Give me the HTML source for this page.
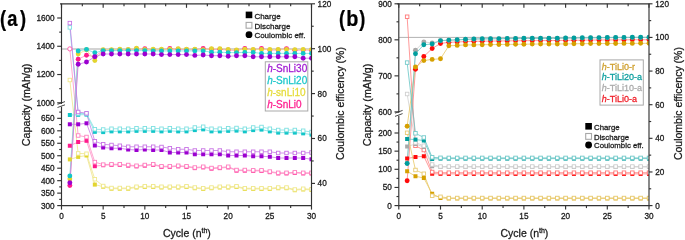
<!DOCTYPE html>
<html><head><meta charset="utf-8"><style>
html,body{margin:0;padding:0;background:#fff;width:685px;height:240px;overflow:hidden}
svg{display:block;font-family:"Liberation Sans", sans-serif;will-change:transform}
</style></head><body>
<svg width="685" height="240" viewBox="0 0 685 240">
<defs><clipPath id="clipA"><rect x="61.5" y="3.8" width="250" height="201.8"/></clipPath><clipPath id="clipB"><rect x="398.8" y="3.8" width="250.2" height="201.8"/></clipPath></defs>
<rect width="685" height="240" fill="#fff"/>
<g clip-path="url(#clipA)">
<line x1="61.5" y1="49" x2="311.5" y2="49" stroke="#c4c4c4" stroke-width="1.7" />
<polyline points="69.83,145.75 78.17,142 86.5,140.8 94.83,166.2 103.17,165.2 111.5,164.85 119.83,164.85 128.17,165.6 136.5,166.35 144.83,165.6 153.17,164.85 161.5,166.85 169.83,166.85 178.17,166.35 186.5,166.85 194.83,168.1 203.17,167.35 211.5,168.6 219.83,168.1 228.17,167.35 236.5,170.6 244.83,170.6 253.17,170.9 261.5,170.9 269.83,172.15 278.17,173.4 286.5,173.4 294.83,172.9 303.17,173.4 311.5,173.4" fill="none" stroke="#ff8fc5" stroke-width="0.8" stroke-opacity="1.0"/>
<polyline points="69.83,48.9 78.17,135.5 86.5,137 94.83,162.1 103.17,164.6 111.5,164.25 119.83,164.25 128.17,165 136.5,165.75 144.83,165 153.17,164.25 161.5,166.25 169.83,166.25 178.17,165.75 186.5,166.25 194.83,167.5 203.17,166.75 211.5,168 219.83,167.5 228.17,166.75 236.5,170 244.83,170 253.17,170.3 261.5,170.3 269.83,171.55 278.17,172.8 286.5,172.8 294.83,172.3 303.17,172.8 311.5,172.8" fill="none" stroke="#ff8fc5" stroke-width="0.8" stroke-opacity="1.0"/>
<polyline points="69.83,185.6 78.17,59.2 86.5,55.2 94.83,56.6 103.17,50.2 111.5,50.2 119.83,49.9 128.17,50 136.5,48.9 144.83,48.8 153.17,49.9 161.5,49.9 169.83,48.5 178.17,49.2 186.5,49.7 194.83,49.7 203.17,48.4 211.5,49.3 219.83,49.3 228.17,50 236.5,50.5 244.83,48.4 253.17,50 261.5,48.5 269.83,50.1 278.17,50 286.5,48.6 294.83,50.2 303.17,50.1 311.5,50.2" fill="none" stroke="#ff8fc5" stroke-width="0.8" stroke-opacity="1.0"/>
<polyline points="69.83,159.4 78.17,156.9 86.5,155.5 94.83,184.6 103.17,186.7 111.5,188.7 119.83,188.7 128.17,188.7 136.5,187.45 144.83,186.95 153.17,186.95 161.5,187.45 169.83,187.45 178.17,187.45 186.5,186.95 194.83,188.2 203.17,188.95 211.5,188.2 219.83,187.45 228.17,187.45 236.5,186.95 244.83,188.95 253.17,188.95 261.5,188.95 269.83,188.95 278.17,188.2 286.5,188.2 294.83,190.2 303.17,189.45 311.5,189.95" fill="none" stroke="#efe58a" stroke-width="0.8" stroke-opacity="1.0"/>
<polyline points="69.83,80 78.17,153.4 86.5,153.75 94.83,179.2 103.17,186 111.5,188 119.83,188 128.17,188 136.5,186.75 144.83,186.25 153.17,186.25 161.5,186.75 169.83,186.75 178.17,186.75 186.5,186.25 194.83,187.5 203.17,188.25 211.5,187.5 219.83,186.75 228.17,186.75 236.5,186.25 244.83,188.25 253.17,188.25 261.5,188.25 269.83,188.25 278.17,187.5 286.5,187.5 294.83,189.5 303.17,188.75 311.5,189.25" fill="none" stroke="#efe58a" stroke-width="0.8" stroke-opacity="1.0"/>
<polyline points="69.83,179 78.17,53.9 86.5,49.8 94.83,60.5 103.17,49.6 111.5,49.6 119.83,49.3 128.17,49.4 136.5,48.3 144.83,49.4 153.17,49.3 161.5,49.3 169.83,49.3 178.17,48.6 186.5,49.1 194.83,49.1 203.17,49.6 211.5,48.7 219.83,48.7 228.17,49.4 236.5,49.9 244.83,49.3 253.17,49.4 261.5,49.4 269.83,49.5 278.17,49.4 286.5,49.4 294.83,49.6 303.17,49.5 311.5,49.6" fill="none" stroke="#efe58a" stroke-width="0.8" stroke-opacity="1.0"/>
<polyline points="69.83,115 78.17,114.8 86.5,114.6 94.83,131.85 103.17,132.1 111.5,131.35 119.83,131.35 128.17,131.35 136.5,130.85 144.83,130.85 153.17,130.85 161.5,131.35 169.83,130.85 178.17,131.35 186.5,131.35 194.83,130.1 203.17,129.35 211.5,131.35 219.83,131.35 228.17,130.85 236.5,130.6 244.83,131.35 253.17,130.1 261.5,129.6 269.83,131.35 278.17,132.6 286.5,132.6 294.83,132.6 303.17,133.35 311.5,134.6" fill="none" stroke="#7fe0e2" stroke-width="0.8" stroke-opacity="1.0"/>
<polyline points="69.83,27.4 78.17,113.5 86.5,113.6 94.83,129.25 103.17,129.5 111.5,128.75 119.83,128.75 128.17,128.75 136.5,128.25 144.83,128.25 153.17,128.25 161.5,128.75 169.83,128.25 178.17,128.75 186.5,128.75 194.83,127.5 203.17,126.75 211.5,128.75 219.83,128.75 228.17,128.25 236.5,128 244.83,128.75 253.17,127.5 261.5,127 269.83,128.75 278.17,130 286.5,130 294.83,130 303.17,130.75 311.5,132" fill="none" stroke="#7fe0e2" stroke-width="0.8" stroke-opacity="1.0"/>
<polyline points="69.83,175.9 78.17,51 86.5,49.4 94.83,52.8 103.17,50.6 111.5,50.6 119.83,50.6 128.17,50.6 136.5,50.6 144.83,50.6 153.17,50.9 161.5,50.9 169.83,50.9 178.17,50.9 186.5,50.9 194.83,50.9 203.17,50.9 211.5,52.2 219.83,52.2 228.17,52.6 236.5,52.6 244.83,52.4 253.17,52.4 261.5,53.4 269.83,53.4 278.17,53.4 286.5,53.4 294.83,53.4 303.17,53.4 311.5,53.4" fill="none" stroke="#7fe0e2" stroke-width="0.8" stroke-opacity="1.0"/>
<polyline points="69.83,124.3 78.17,124.3 86.5,123.3 94.83,145.5 103.17,147.5 111.5,148.25 119.83,148.25 128.17,149.5 136.5,150 144.83,149.5 153.17,150 161.5,150 169.83,152.5 178.17,152.5 186.5,152.5 194.83,154.25 203.17,154.25 211.5,154.25 219.83,154.25 228.17,155.5 236.5,155.5 244.83,155.5 253.17,156.25 261.5,156.25 269.83,156.75 278.17,158 286.5,158 294.83,158 303.17,158 311.5,159.25" fill="none" stroke="#c77ae6" stroke-width="0.8" stroke-opacity="1.0"/>
<polyline points="69.83,23.1 78.17,112 86.5,113.3 94.83,141.25 103.17,144.25 111.5,145 119.83,145.75 128.17,146.75 136.5,146.75 144.83,146.75 153.17,146.75 161.5,147 169.83,148.25 178.17,149.25 186.5,149.25 194.83,150.5 203.17,150.5 211.5,150.5 219.83,150.5 228.17,151.75 236.5,151.75 244.83,151.75 253.17,151.75 261.5,151.75 269.83,151.75 278.17,153 286.5,153 294.83,153 303.17,153 311.5,152.5" fill="none" stroke="#c77ae6" stroke-width="0.8" stroke-opacity="1.0"/>
<polyline points="69.83,182.8 78.17,64.3 86.5,62 94.83,56.7 103.17,54 111.5,54 119.83,54 128.17,54 136.5,54 144.83,54 153.17,54 161.5,54.6 169.83,54.6 178.17,54.6 186.5,54.6 194.83,55.4 203.17,55 211.5,55.7 219.83,55.7 228.17,56.3 236.5,55.8 244.83,55.8 253.17,56.8 261.5,56.8 269.83,56.8 278.17,56.8 286.5,56.8 294.83,56.8 303.17,58.2 311.5,58.2" fill="none" stroke="#c77ae6" stroke-width="0.8" stroke-opacity="1.0"/>
<rect x="67.83" y="143.75" width="4" height="4" fill="#ff1a8c"/>
<rect x="76.17" y="140" width="4" height="4" fill="#ff1a8c"/>
<rect x="84.5" y="138.8" width="4" height="4" fill="#ff1a8c"/>
<rect x="92.83" y="164.2" width="4" height="4" fill="#ff1a8c"/>
<rect x="101.17" y="163.2" width="4" height="4" fill="#ff1a8c"/>
<rect x="109.5" y="162.85" width="4" height="4" fill="#ff1a8c"/>
<rect x="117.83" y="162.85" width="4" height="4" fill="#ff1a8c"/>
<rect x="126.17" y="163.6" width="4" height="4" fill="#ff1a8c"/>
<rect x="134.5" y="164.35" width="4" height="4" fill="#ff1a8c"/>
<rect x="142.83" y="163.6" width="4" height="4" fill="#ff1a8c"/>
<rect x="151.17" y="162.85" width="4" height="4" fill="#ff1a8c"/>
<rect x="159.5" y="164.85" width="4" height="4" fill="#ff1a8c"/>
<rect x="167.83" y="164.85" width="4" height="4" fill="#ff1a8c"/>
<rect x="176.17" y="164.35" width="4" height="4" fill="#ff1a8c"/>
<rect x="184.5" y="164.85" width="4" height="4" fill="#ff1a8c"/>
<rect x="192.83" y="166.1" width="4" height="4" fill="#ff1a8c"/>
<rect x="201.17" y="165.35" width="4" height="4" fill="#ff1a8c"/>
<rect x="209.5" y="166.6" width="4" height="4" fill="#ff1a8c"/>
<rect x="217.83" y="166.1" width="4" height="4" fill="#ff1a8c"/>
<rect x="226.17" y="165.35" width="4" height="4" fill="#ff1a8c"/>
<rect x="234.5" y="168.6" width="4" height="4" fill="#ff1a8c"/>
<rect x="242.83" y="168.6" width="4" height="4" fill="#ff1a8c"/>
<rect x="251.17" y="168.9" width="4" height="4" fill="#ff1a8c"/>
<rect x="259.5" y="168.9" width="4" height="4" fill="#ff1a8c"/>
<rect x="267.83" y="170.15" width="4" height="4" fill="#ff1a8c"/>
<rect x="276.17" y="171.4" width="4" height="4" fill="#ff1a8c"/>
<rect x="284.5" y="171.4" width="4" height="4" fill="#ff1a8c"/>
<rect x="292.83" y="170.9" width="4" height="4" fill="#ff1a8c"/>
<rect x="301.17" y="171.4" width="4" height="4" fill="#ff1a8c"/>
<rect x="309.5" y="171.4" width="4" height="4" fill="#ff1a8c"/>
<circle cx="69.83" cy="48.9" r="2.1" fill="#fff" stroke="#ff5fae" stroke-width="1"/>
<rect x="76.42" y="133.75" width="3.5" height="3.5" fill="#fff" stroke="#ff81c0" stroke-width="0.9"/>
<rect x="84.75" y="135.25" width="3.5" height="3.5" fill="#fff" stroke="#ff81c0" stroke-width="0.9"/>
<rect x="93.08" y="160.35" width="3.5" height="3.5" fill="#fff" stroke="#ff81c0" stroke-width="0.9"/>
<rect x="101.42" y="162.85" width="3.5" height="3.5" fill="#fff" stroke="#ff81c0" stroke-width="0.9"/>
<rect x="109.75" y="162.5" width="3.5" height="3.5" fill="#fff" stroke="#ff81c0" stroke-width="0.9"/>
<rect x="118.08" y="162.5" width="3.5" height="3.5" fill="#fff" stroke="#ff81c0" stroke-width="0.9"/>
<rect x="126.42" y="163.25" width="3.5" height="3.5" fill="#fff" stroke="#ff81c0" stroke-width="0.9"/>
<rect x="134.75" y="164" width="3.5" height="3.5" fill="#fff" stroke="#ff81c0" stroke-width="0.9"/>
<rect x="143.08" y="163.25" width="3.5" height="3.5" fill="#fff" stroke="#ff81c0" stroke-width="0.9"/>
<rect x="151.42" y="162.5" width="3.5" height="3.5" fill="#fff" stroke="#ff81c0" stroke-width="0.9"/>
<rect x="159.75" y="164.5" width="3.5" height="3.5" fill="#fff" stroke="#ff81c0" stroke-width="0.9"/>
<rect x="168.08" y="164.5" width="3.5" height="3.5" fill="#fff" stroke="#ff81c0" stroke-width="0.9"/>
<rect x="176.42" y="164" width="3.5" height="3.5" fill="#fff" stroke="#ff81c0" stroke-width="0.9"/>
<rect x="184.75" y="164.5" width="3.5" height="3.5" fill="#fff" stroke="#ff81c0" stroke-width="0.9"/>
<rect x="193.08" y="165.75" width="3.5" height="3.5" fill="#fff" stroke="#ff81c0" stroke-width="0.9"/>
<rect x="201.42" y="165" width="3.5" height="3.5" fill="#fff" stroke="#ff81c0" stroke-width="0.9"/>
<rect x="209.75" y="166.25" width="3.5" height="3.5" fill="#fff" stroke="#ff81c0" stroke-width="0.9"/>
<rect x="218.08" y="165.75" width="3.5" height="3.5" fill="#fff" stroke="#ff81c0" stroke-width="0.9"/>
<rect x="226.42" y="165" width="3.5" height="3.5" fill="#fff" stroke="#ff81c0" stroke-width="0.9"/>
<rect x="234.75" y="168.25" width="3.5" height="3.5" fill="#fff" stroke="#ff81c0" stroke-width="0.9"/>
<rect x="243.08" y="168.25" width="3.5" height="3.5" fill="#fff" stroke="#ff81c0" stroke-width="0.9"/>
<rect x="251.42" y="168.55" width="3.5" height="3.5" fill="#fff" stroke="#ff81c0" stroke-width="0.9"/>
<rect x="259.75" y="168.55" width="3.5" height="3.5" fill="#fff" stroke="#ff81c0" stroke-width="0.9"/>
<rect x="268.08" y="169.8" width="3.5" height="3.5" fill="#fff" stroke="#ff81c0" stroke-width="0.9"/>
<rect x="276.42" y="171.05" width="3.5" height="3.5" fill="#fff" stroke="#ff81c0" stroke-width="0.9"/>
<rect x="284.75" y="171.05" width="3.5" height="3.5" fill="#fff" stroke="#ff81c0" stroke-width="0.9"/>
<rect x="293.08" y="170.55" width="3.5" height="3.5" fill="#fff" stroke="#ff81c0" stroke-width="0.9"/>
<rect x="301.42" y="171.05" width="3.5" height="3.5" fill="#fff" stroke="#ff81c0" stroke-width="0.9"/>
<rect x="309.75" y="171.05" width="3.5" height="3.5" fill="#fff" stroke="#ff81c0" stroke-width="0.9"/>
<circle cx="69.83" cy="185.6" r="2.45" fill="#ff1a8c"/>
<circle cx="78.17" cy="59.2" r="2.45" fill="#ff1a8c"/>
<circle cx="86.5" cy="55.2" r="2.45" fill="#ff1a8c"/>
<circle cx="94.83" cy="56.6" r="2.45" fill="#ff1a8c"/>
<circle cx="103.17" cy="50.2" r="2.45" fill="#ff1a8c"/>
<circle cx="111.5" cy="50.2" r="2.45" fill="#ff1a8c"/>
<circle cx="119.83" cy="49.9" r="2.45" fill="#ff1a8c"/>
<circle cx="128.17" cy="50" r="2.45" fill="#ff1a8c"/>
<circle cx="136.5" cy="48.9" r="2.45" fill="#ff1a8c"/>
<circle cx="144.83" cy="48.8" r="2.45" fill="#ff1a8c"/>
<circle cx="153.17" cy="49.9" r="2.45" fill="#ff1a8c"/>
<circle cx="161.5" cy="49.9" r="2.45" fill="#ff1a8c"/>
<circle cx="169.83" cy="48.5" r="2.45" fill="#ff1a8c"/>
<circle cx="178.17" cy="49.2" r="2.45" fill="#ff1a8c"/>
<circle cx="186.5" cy="49.7" r="2.45" fill="#ff1a8c"/>
<circle cx="194.83" cy="49.7" r="2.45" fill="#ff1a8c"/>
<circle cx="203.17" cy="48.4" r="2.45" fill="#ff1a8c"/>
<circle cx="211.5" cy="49.3" r="2.45" fill="#ff1a8c"/>
<circle cx="219.83" cy="49.3" r="2.45" fill="#ff1a8c"/>
<circle cx="228.17" cy="50" r="2.45" fill="#ff1a8c"/>
<circle cx="236.5" cy="50.5" r="2.45" fill="#ff1a8c"/>
<circle cx="244.83" cy="48.4" r="2.45" fill="#ff1a8c"/>
<circle cx="253.17" cy="50" r="2.45" fill="#ff1a8c"/>
<circle cx="261.5" cy="48.5" r="2.45" fill="#ff1a8c"/>
<circle cx="269.83" cy="50.1" r="2.45" fill="#ff1a8c"/>
<circle cx="278.17" cy="50" r="2.45" fill="#ff1a8c"/>
<circle cx="286.5" cy="48.6" r="2.45" fill="#ff1a8c"/>
<circle cx="294.83" cy="50.2" r="2.45" fill="#ff1a8c"/>
<circle cx="303.17" cy="50.1" r="2.45" fill="#ff1a8c"/>
<circle cx="311.5" cy="50.2" r="2.45" fill="#ff1a8c"/>
<rect x="67.83" y="157.4" width="4" height="4" fill="#e3d52f"/>
<rect x="76.17" y="154.9" width="4" height="4" fill="#e3d52f"/>
<rect x="84.5" y="153.5" width="4" height="4" fill="#e3d52f"/>
<rect x="92.83" y="182.6" width="4" height="4" fill="#e3d52f"/>
<rect x="101.17" y="184.7" width="4" height="4" fill="#e3d52f"/>
<rect x="109.5" y="186.7" width="4" height="4" fill="#e3d52f"/>
<rect x="117.83" y="186.7" width="4" height="4" fill="#e3d52f"/>
<rect x="126.17" y="186.7" width="4" height="4" fill="#e3d52f"/>
<rect x="134.5" y="185.45" width="4" height="4" fill="#e3d52f"/>
<rect x="142.83" y="184.95" width="4" height="4" fill="#e3d52f"/>
<rect x="151.17" y="184.95" width="4" height="4" fill="#e3d52f"/>
<rect x="159.5" y="185.45" width="4" height="4" fill="#e3d52f"/>
<rect x="167.83" y="185.45" width="4" height="4" fill="#e3d52f"/>
<rect x="176.17" y="185.45" width="4" height="4" fill="#e3d52f"/>
<rect x="184.5" y="184.95" width="4" height="4" fill="#e3d52f"/>
<rect x="192.83" y="186.2" width="4" height="4" fill="#e3d52f"/>
<rect x="201.17" y="186.95" width="4" height="4" fill="#e3d52f"/>
<rect x="209.5" y="186.2" width="4" height="4" fill="#e3d52f"/>
<rect x="217.83" y="185.45" width="4" height="4" fill="#e3d52f"/>
<rect x="226.17" y="185.45" width="4" height="4" fill="#e3d52f"/>
<rect x="234.5" y="184.95" width="4" height="4" fill="#e3d52f"/>
<rect x="242.83" y="186.95" width="4" height="4" fill="#e3d52f"/>
<rect x="251.17" y="186.95" width="4" height="4" fill="#e3d52f"/>
<rect x="259.5" y="186.95" width="4" height="4" fill="#e3d52f"/>
<rect x="267.83" y="186.95" width="4" height="4" fill="#e3d52f"/>
<rect x="276.17" y="186.2" width="4" height="4" fill="#e3d52f"/>
<rect x="284.5" y="186.2" width="4" height="4" fill="#e3d52f"/>
<rect x="292.83" y="188.2" width="4" height="4" fill="#e3d52f"/>
<rect x="301.17" y="187.45" width="4" height="4" fill="#e3d52f"/>
<rect x="309.5" y="187.95" width="4" height="4" fill="#e3d52f"/>
<rect x="68.08" y="78.25" width="3.5" height="3.5" fill="#fff" stroke="#f0e88d" stroke-width="0.9"/>
<rect x="76.42" y="151.65" width="3.5" height="3.5" fill="#fff" stroke="#f0e88d" stroke-width="0.9"/>
<rect x="84.75" y="152" width="3.5" height="3.5" fill="#fff" stroke="#f0e88d" stroke-width="0.9"/>
<rect x="93.08" y="177.45" width="3.5" height="3.5" fill="#fff" stroke="#f0e88d" stroke-width="0.9"/>
<rect x="101.42" y="184.25" width="3.5" height="3.5" fill="#fff" stroke="#f0e88d" stroke-width="0.9"/>
<rect x="109.75" y="186.25" width="3.5" height="3.5" fill="#fff" stroke="#f0e88d" stroke-width="0.9"/>
<rect x="118.08" y="186.25" width="3.5" height="3.5" fill="#fff" stroke="#f0e88d" stroke-width="0.9"/>
<rect x="126.42" y="186.25" width="3.5" height="3.5" fill="#fff" stroke="#f0e88d" stroke-width="0.9"/>
<rect x="134.75" y="185" width="3.5" height="3.5" fill="#fff" stroke="#f0e88d" stroke-width="0.9"/>
<rect x="143.08" y="184.5" width="3.5" height="3.5" fill="#fff" stroke="#f0e88d" stroke-width="0.9"/>
<rect x="151.42" y="184.5" width="3.5" height="3.5" fill="#fff" stroke="#f0e88d" stroke-width="0.9"/>
<rect x="159.75" y="185" width="3.5" height="3.5" fill="#fff" stroke="#f0e88d" stroke-width="0.9"/>
<rect x="168.08" y="185" width="3.5" height="3.5" fill="#fff" stroke="#f0e88d" stroke-width="0.9"/>
<rect x="176.42" y="185" width="3.5" height="3.5" fill="#fff" stroke="#f0e88d" stroke-width="0.9"/>
<rect x="184.75" y="184.5" width="3.5" height="3.5" fill="#fff" stroke="#f0e88d" stroke-width="0.9"/>
<rect x="193.08" y="185.75" width="3.5" height="3.5" fill="#fff" stroke="#f0e88d" stroke-width="0.9"/>
<rect x="201.42" y="186.5" width="3.5" height="3.5" fill="#fff" stroke="#f0e88d" stroke-width="0.9"/>
<rect x="209.75" y="185.75" width="3.5" height="3.5" fill="#fff" stroke="#f0e88d" stroke-width="0.9"/>
<rect x="218.08" y="185" width="3.5" height="3.5" fill="#fff" stroke="#f0e88d" stroke-width="0.9"/>
<rect x="226.42" y="185" width="3.5" height="3.5" fill="#fff" stroke="#f0e88d" stroke-width="0.9"/>
<rect x="234.75" y="184.5" width="3.5" height="3.5" fill="#fff" stroke="#f0e88d" stroke-width="0.9"/>
<rect x="243.08" y="186.5" width="3.5" height="3.5" fill="#fff" stroke="#f0e88d" stroke-width="0.9"/>
<rect x="251.42" y="186.5" width="3.5" height="3.5" fill="#fff" stroke="#f0e88d" stroke-width="0.9"/>
<rect x="259.75" y="186.5" width="3.5" height="3.5" fill="#fff" stroke="#f0e88d" stroke-width="0.9"/>
<rect x="268.08" y="186.5" width="3.5" height="3.5" fill="#fff" stroke="#f0e88d" stroke-width="0.9"/>
<rect x="276.42" y="185.75" width="3.5" height="3.5" fill="#fff" stroke="#f0e88d" stroke-width="0.9"/>
<rect x="284.75" y="185.75" width="3.5" height="3.5" fill="#fff" stroke="#f0e88d" stroke-width="0.9"/>
<rect x="293.08" y="187.75" width="3.5" height="3.5" fill="#fff" stroke="#f0e88d" stroke-width="0.9"/>
<rect x="301.42" y="187" width="3.5" height="3.5" fill="#fff" stroke="#f0e88d" stroke-width="0.9"/>
<rect x="309.75" y="187.5" width="3.5" height="3.5" fill="#fff" stroke="#f0e88d" stroke-width="0.9"/>
<circle cx="69.83" cy="179" r="2.45" fill="#e3d52f"/>
<circle cx="78.17" cy="53.9" r="2.45" fill="#e3d52f"/>
<circle cx="86.5" cy="49.8" r="2.45" fill="#e3d52f"/>
<circle cx="94.83" cy="60.5" r="2.45" fill="#e3d52f"/>
<circle cx="103.17" cy="49.6" r="2.45" fill="#e3d52f"/>
<circle cx="111.5" cy="49.6" r="2.45" fill="#e3d52f"/>
<circle cx="119.83" cy="49.3" r="2.45" fill="#e3d52f"/>
<circle cx="128.17" cy="49.4" r="2.45" fill="#e3d52f"/>
<circle cx="136.5" cy="48.3" r="2.45" fill="#e3d52f"/>
<circle cx="144.83" cy="49.4" r="2.45" fill="#e3d52f"/>
<circle cx="153.17" cy="49.3" r="2.45" fill="#e3d52f"/>
<circle cx="161.5" cy="49.3" r="2.45" fill="#e3d52f"/>
<circle cx="169.83" cy="49.3" r="2.45" fill="#e3d52f"/>
<circle cx="178.17" cy="48.6" r="2.45" fill="#e3d52f"/>
<circle cx="186.5" cy="49.1" r="2.45" fill="#e3d52f"/>
<circle cx="194.83" cy="49.1" r="2.45" fill="#e3d52f"/>
<circle cx="203.17" cy="49.6" r="2.45" fill="#e3d52f"/>
<circle cx="211.5" cy="48.7" r="2.45" fill="#e3d52f"/>
<circle cx="219.83" cy="48.7" r="2.45" fill="#e3d52f"/>
<circle cx="228.17" cy="49.4" r="2.45" fill="#e3d52f"/>
<circle cx="236.5" cy="49.9" r="2.45" fill="#e3d52f"/>
<circle cx="244.83" cy="49.3" r="2.45" fill="#e3d52f"/>
<circle cx="253.17" cy="49.4" r="2.45" fill="#e3d52f"/>
<circle cx="261.5" cy="49.4" r="2.45" fill="#e3d52f"/>
<circle cx="269.83" cy="49.5" r="2.45" fill="#e3d52f"/>
<circle cx="278.17" cy="49.4" r="2.45" fill="#e3d52f"/>
<circle cx="286.5" cy="49.4" r="2.45" fill="#e3d52f"/>
<circle cx="294.83" cy="49.6" r="2.45" fill="#e3d52f"/>
<circle cx="303.17" cy="49.5" r="2.45" fill="#e3d52f"/>
<circle cx="311.5" cy="49.6" r="2.45" fill="#e3d52f"/>
<rect x="67.83" y="113" width="4" height="4" fill="#12c6c9"/>
<rect x="76.17" y="112.8" width="4" height="4" fill="#12c6c9"/>
<rect x="84.5" y="112.6" width="4" height="4" fill="#12c6c9"/>
<rect x="92.83" y="129.85" width="4" height="4" fill="#12c6c9"/>
<rect x="101.17" y="130.1" width="4" height="4" fill="#12c6c9"/>
<rect x="109.5" y="129.35" width="4" height="4" fill="#12c6c9"/>
<rect x="117.83" y="129.35" width="4" height="4" fill="#12c6c9"/>
<rect x="126.17" y="129.35" width="4" height="4" fill="#12c6c9"/>
<rect x="134.5" y="128.85" width="4" height="4" fill="#12c6c9"/>
<rect x="142.83" y="128.85" width="4" height="4" fill="#12c6c9"/>
<rect x="151.17" y="128.85" width="4" height="4" fill="#12c6c9"/>
<rect x="159.5" y="129.35" width="4" height="4" fill="#12c6c9"/>
<rect x="167.83" y="128.85" width="4" height="4" fill="#12c6c9"/>
<rect x="176.17" y="129.35" width="4" height="4" fill="#12c6c9"/>
<rect x="184.5" y="129.35" width="4" height="4" fill="#12c6c9"/>
<rect x="192.83" y="128.1" width="4" height="4" fill="#12c6c9"/>
<rect x="201.17" y="127.35" width="4" height="4" fill="#12c6c9"/>
<rect x="209.5" y="129.35" width="4" height="4" fill="#12c6c9"/>
<rect x="217.83" y="129.35" width="4" height="4" fill="#12c6c9"/>
<rect x="226.17" y="128.85" width="4" height="4" fill="#12c6c9"/>
<rect x="234.5" y="128.6" width="4" height="4" fill="#12c6c9"/>
<rect x="242.83" y="129.35" width="4" height="4" fill="#12c6c9"/>
<rect x="251.17" y="128.1" width="4" height="4" fill="#12c6c9"/>
<rect x="259.5" y="127.6" width="4" height="4" fill="#12c6c9"/>
<rect x="267.83" y="129.35" width="4" height="4" fill="#12c6c9"/>
<rect x="276.17" y="130.6" width="4" height="4" fill="#12c6c9"/>
<rect x="284.5" y="130.6" width="4" height="4" fill="#12c6c9"/>
<rect x="292.83" y="130.6" width="4" height="4" fill="#12c6c9"/>
<rect x="301.17" y="131.35" width="4" height="4" fill="#12c6c9"/>
<rect x="309.5" y="132.6" width="4" height="4" fill="#12c6c9"/>
<rect x="68.08" y="25.65" width="3.5" height="3.5" fill="#fff" stroke="#7de0e1" stroke-width="0.9"/>
<rect x="76.42" y="111.75" width="3.5" height="3.5" fill="#fff" stroke="#7de0e1" stroke-width="0.9"/>
<rect x="84.75" y="111.85" width="3.5" height="3.5" fill="#fff" stroke="#7de0e1" stroke-width="0.9"/>
<rect x="93.08" y="127.5" width="3.5" height="3.5" fill="#fff" stroke="#7de0e1" stroke-width="0.9"/>
<rect x="101.42" y="127.75" width="3.5" height="3.5" fill="#fff" stroke="#7de0e1" stroke-width="0.9"/>
<rect x="109.75" y="127" width="3.5" height="3.5" fill="#fff" stroke="#7de0e1" stroke-width="0.9"/>
<rect x="118.08" y="127" width="3.5" height="3.5" fill="#fff" stroke="#7de0e1" stroke-width="0.9"/>
<rect x="126.42" y="127" width="3.5" height="3.5" fill="#fff" stroke="#7de0e1" stroke-width="0.9"/>
<rect x="134.75" y="126.5" width="3.5" height="3.5" fill="#fff" stroke="#7de0e1" stroke-width="0.9"/>
<rect x="143.08" y="126.5" width="3.5" height="3.5" fill="#fff" stroke="#7de0e1" stroke-width="0.9"/>
<rect x="151.42" y="126.5" width="3.5" height="3.5" fill="#fff" stroke="#7de0e1" stroke-width="0.9"/>
<rect x="159.75" y="127" width="3.5" height="3.5" fill="#fff" stroke="#7de0e1" stroke-width="0.9"/>
<rect x="168.08" y="126.5" width="3.5" height="3.5" fill="#fff" stroke="#7de0e1" stroke-width="0.9"/>
<rect x="176.42" y="127" width="3.5" height="3.5" fill="#fff" stroke="#7de0e1" stroke-width="0.9"/>
<rect x="184.75" y="127" width="3.5" height="3.5" fill="#fff" stroke="#7de0e1" stroke-width="0.9"/>
<rect x="193.08" y="125.75" width="3.5" height="3.5" fill="#fff" stroke="#7de0e1" stroke-width="0.9"/>
<rect x="201.42" y="125" width="3.5" height="3.5" fill="#fff" stroke="#7de0e1" stroke-width="0.9"/>
<rect x="209.75" y="127" width="3.5" height="3.5" fill="#fff" stroke="#7de0e1" stroke-width="0.9"/>
<rect x="218.08" y="127" width="3.5" height="3.5" fill="#fff" stroke="#7de0e1" stroke-width="0.9"/>
<rect x="226.42" y="126.5" width="3.5" height="3.5" fill="#fff" stroke="#7de0e1" stroke-width="0.9"/>
<rect x="234.75" y="126.25" width="3.5" height="3.5" fill="#fff" stroke="#7de0e1" stroke-width="0.9"/>
<rect x="243.08" y="127" width="3.5" height="3.5" fill="#fff" stroke="#7de0e1" stroke-width="0.9"/>
<rect x="251.42" y="125.75" width="3.5" height="3.5" fill="#fff" stroke="#7de0e1" stroke-width="0.9"/>
<rect x="259.75" y="125.25" width="3.5" height="3.5" fill="#fff" stroke="#7de0e1" stroke-width="0.9"/>
<rect x="268.08" y="127" width="3.5" height="3.5" fill="#fff" stroke="#7de0e1" stroke-width="0.9"/>
<rect x="276.42" y="128.25" width="3.5" height="3.5" fill="#fff" stroke="#7de0e1" stroke-width="0.9"/>
<rect x="284.75" y="128.25" width="3.5" height="3.5" fill="#fff" stroke="#7de0e1" stroke-width="0.9"/>
<rect x="293.08" y="128.25" width="3.5" height="3.5" fill="#fff" stroke="#7de0e1" stroke-width="0.9"/>
<rect x="301.42" y="129" width="3.5" height="3.5" fill="#fff" stroke="#7de0e1" stroke-width="0.9"/>
<rect x="309.75" y="130.25" width="3.5" height="3.5" fill="#fff" stroke="#7de0e1" stroke-width="0.9"/>
<circle cx="69.83" cy="175.9" r="2.45" fill="#12c6c9"/>
<circle cx="78.17" cy="51" r="2.45" fill="#12c6c9"/>
<circle cx="86.5" cy="49.4" r="2.45" fill="#12c6c9"/>
<circle cx="94.83" cy="52.8" r="2.45" fill="#12c6c9"/>
<circle cx="103.17" cy="50.6" r="2.45" fill="#12c6c9"/>
<circle cx="111.5" cy="50.6" r="2.45" fill="#12c6c9"/>
<circle cx="119.83" cy="50.6" r="2.45" fill="#12c6c9"/>
<circle cx="128.17" cy="50.6" r="2.45" fill="#12c6c9"/>
<circle cx="136.5" cy="50.6" r="2.45" fill="#12c6c9"/>
<circle cx="144.83" cy="50.6" r="2.45" fill="#12c6c9"/>
<circle cx="153.17" cy="50.9" r="2.45" fill="#12c6c9"/>
<circle cx="161.5" cy="50.9" r="2.45" fill="#12c6c9"/>
<circle cx="169.83" cy="50.9" r="2.45" fill="#12c6c9"/>
<circle cx="178.17" cy="50.9" r="2.45" fill="#12c6c9"/>
<circle cx="186.5" cy="50.9" r="2.45" fill="#12c6c9"/>
<circle cx="194.83" cy="50.9" r="2.45" fill="#12c6c9"/>
<circle cx="203.17" cy="50.9" r="2.45" fill="#12c6c9"/>
<circle cx="211.5" cy="52.2" r="2.45" fill="#12c6c9"/>
<circle cx="219.83" cy="52.2" r="2.45" fill="#12c6c9"/>
<circle cx="228.17" cy="52.6" r="2.45" fill="#12c6c9"/>
<circle cx="236.5" cy="52.6" r="2.45" fill="#12c6c9"/>
<circle cx="244.83" cy="52.4" r="2.45" fill="#12c6c9"/>
<circle cx="253.17" cy="52.4" r="2.45" fill="#12c6c9"/>
<circle cx="261.5" cy="53.4" r="2.45" fill="#12c6c9"/>
<circle cx="269.83" cy="53.4" r="2.45" fill="#12c6c9"/>
<circle cx="278.17" cy="53.4" r="2.45" fill="#12c6c9"/>
<circle cx="286.5" cy="53.4" r="2.45" fill="#12c6c9"/>
<circle cx="294.83" cy="53.4" r="2.45" fill="#12c6c9"/>
<circle cx="303.17" cy="53.4" r="2.45" fill="#12c6c9"/>
<circle cx="311.5" cy="53.4" r="2.45" fill="#12c6c9"/>
<rect x="67.83" y="122.3" width="4" height="4" fill="#9b00d0"/>
<rect x="76.17" y="122.3" width="4" height="4" fill="#9b00d0"/>
<rect x="84.5" y="121.3" width="4" height="4" fill="#9b00d0"/>
<rect x="92.83" y="143.5" width="4" height="4" fill="#9b00d0"/>
<rect x="101.17" y="145.5" width="4" height="4" fill="#9b00d0"/>
<rect x="109.5" y="146.25" width="4" height="4" fill="#9b00d0"/>
<rect x="117.83" y="146.25" width="4" height="4" fill="#9b00d0"/>
<rect x="126.17" y="147.5" width="4" height="4" fill="#9b00d0"/>
<rect x="134.5" y="148" width="4" height="4" fill="#9b00d0"/>
<rect x="142.83" y="147.5" width="4" height="4" fill="#9b00d0"/>
<rect x="151.17" y="148" width="4" height="4" fill="#9b00d0"/>
<rect x="159.5" y="148" width="4" height="4" fill="#9b00d0"/>
<rect x="167.83" y="150.5" width="4" height="4" fill="#9b00d0"/>
<rect x="176.17" y="150.5" width="4" height="4" fill="#9b00d0"/>
<rect x="184.5" y="150.5" width="4" height="4" fill="#9b00d0"/>
<rect x="192.83" y="152.25" width="4" height="4" fill="#9b00d0"/>
<rect x="201.17" y="152.25" width="4" height="4" fill="#9b00d0"/>
<rect x="209.5" y="152.25" width="4" height="4" fill="#9b00d0"/>
<rect x="217.83" y="152.25" width="4" height="4" fill="#9b00d0"/>
<rect x="226.17" y="153.5" width="4" height="4" fill="#9b00d0"/>
<rect x="234.5" y="153.5" width="4" height="4" fill="#9b00d0"/>
<rect x="242.83" y="153.5" width="4" height="4" fill="#9b00d0"/>
<rect x="251.17" y="154.25" width="4" height="4" fill="#9b00d0"/>
<rect x="259.5" y="154.25" width="4" height="4" fill="#9b00d0"/>
<rect x="267.83" y="154.75" width="4" height="4" fill="#9b00d0"/>
<rect x="276.17" y="156" width="4" height="4" fill="#9b00d0"/>
<rect x="284.5" y="156" width="4" height="4" fill="#9b00d0"/>
<rect x="292.83" y="156" width="4" height="4" fill="#9b00d0"/>
<rect x="301.17" y="156" width="4" height="4" fill="#9b00d0"/>
<rect x="309.5" y="157.25" width="4" height="4" fill="#9b00d0"/>
<rect x="68.08" y="21.35" width="3.5" height="3.5" fill="#fff" stroke="#c873e5" stroke-width="0.9"/>
<rect x="76.42" y="110.25" width="3.5" height="3.5" fill="#fff" stroke="#c873e5" stroke-width="0.9"/>
<rect x="84.75" y="111.55" width="3.5" height="3.5" fill="#fff" stroke="#c873e5" stroke-width="0.9"/>
<rect x="93.08" y="139.5" width="3.5" height="3.5" fill="#fff" stroke="#c873e5" stroke-width="0.9"/>
<rect x="101.42" y="142.5" width="3.5" height="3.5" fill="#fff" stroke="#c873e5" stroke-width="0.9"/>
<rect x="109.75" y="143.25" width="3.5" height="3.5" fill="#fff" stroke="#c873e5" stroke-width="0.9"/>
<rect x="118.08" y="144" width="3.5" height="3.5" fill="#fff" stroke="#c873e5" stroke-width="0.9"/>
<rect x="126.42" y="145" width="3.5" height="3.5" fill="#fff" stroke="#c873e5" stroke-width="0.9"/>
<rect x="134.75" y="145" width="3.5" height="3.5" fill="#fff" stroke="#c873e5" stroke-width="0.9"/>
<rect x="143.08" y="145" width="3.5" height="3.5" fill="#fff" stroke="#c873e5" stroke-width="0.9"/>
<rect x="151.42" y="145" width="3.5" height="3.5" fill="#fff" stroke="#c873e5" stroke-width="0.9"/>
<rect x="159.75" y="145.25" width="3.5" height="3.5" fill="#fff" stroke="#c873e5" stroke-width="0.9"/>
<rect x="168.08" y="146.5" width="3.5" height="3.5" fill="#fff" stroke="#c873e5" stroke-width="0.9"/>
<rect x="176.42" y="147.5" width="3.5" height="3.5" fill="#fff" stroke="#c873e5" stroke-width="0.9"/>
<rect x="184.75" y="147.5" width="3.5" height="3.5" fill="#fff" stroke="#c873e5" stroke-width="0.9"/>
<rect x="193.08" y="148.75" width="3.5" height="3.5" fill="#fff" stroke="#c873e5" stroke-width="0.9"/>
<rect x="201.42" y="148.75" width="3.5" height="3.5" fill="#fff" stroke="#c873e5" stroke-width="0.9"/>
<rect x="209.75" y="148.75" width="3.5" height="3.5" fill="#fff" stroke="#c873e5" stroke-width="0.9"/>
<rect x="218.08" y="148.75" width="3.5" height="3.5" fill="#fff" stroke="#c873e5" stroke-width="0.9"/>
<rect x="226.42" y="150" width="3.5" height="3.5" fill="#fff" stroke="#c873e5" stroke-width="0.9"/>
<rect x="234.75" y="150" width="3.5" height="3.5" fill="#fff" stroke="#c873e5" stroke-width="0.9"/>
<rect x="243.08" y="150" width="3.5" height="3.5" fill="#fff" stroke="#c873e5" stroke-width="0.9"/>
<rect x="251.42" y="150" width="3.5" height="3.5" fill="#fff" stroke="#c873e5" stroke-width="0.9"/>
<rect x="259.75" y="150" width="3.5" height="3.5" fill="#fff" stroke="#c873e5" stroke-width="0.9"/>
<rect x="268.08" y="150" width="3.5" height="3.5" fill="#fff" stroke="#c873e5" stroke-width="0.9"/>
<rect x="276.42" y="151.25" width="3.5" height="3.5" fill="#fff" stroke="#c873e5" stroke-width="0.9"/>
<rect x="284.75" y="151.25" width="3.5" height="3.5" fill="#fff" stroke="#c873e5" stroke-width="0.9"/>
<rect x="293.08" y="151.25" width="3.5" height="3.5" fill="#fff" stroke="#c873e5" stroke-width="0.9"/>
<rect x="301.42" y="151.25" width="3.5" height="3.5" fill="#fff" stroke="#c873e5" stroke-width="0.9"/>
<rect x="309.75" y="150.75" width="3.5" height="3.5" fill="#fff" stroke="#c873e5" stroke-width="0.9"/>
<circle cx="69.83" cy="182.8" r="2.45" fill="#9b00d0"/>
<circle cx="78.17" cy="64.3" r="2.45" fill="#9b00d0"/>
<circle cx="86.5" cy="62" r="2.45" fill="#9b00d0"/>
<circle cx="94.83" cy="56.7" r="2.45" fill="#9b00d0"/>
<circle cx="103.17" cy="54" r="2.45" fill="#9b00d0"/>
<circle cx="111.5" cy="54" r="2.45" fill="#9b00d0"/>
<circle cx="119.83" cy="54" r="2.45" fill="#9b00d0"/>
<circle cx="128.17" cy="54" r="2.45" fill="#9b00d0"/>
<circle cx="136.5" cy="54" r="2.45" fill="#9b00d0"/>
<circle cx="144.83" cy="54" r="2.45" fill="#9b00d0"/>
<circle cx="153.17" cy="54" r="2.45" fill="#9b00d0"/>
<circle cx="161.5" cy="54.6" r="2.45" fill="#9b00d0"/>
<circle cx="169.83" cy="54.6" r="2.45" fill="#9b00d0"/>
<circle cx="178.17" cy="54.6" r="2.45" fill="#9b00d0"/>
<circle cx="186.5" cy="54.6" r="2.45" fill="#9b00d0"/>
<circle cx="194.83" cy="55.4" r="2.45" fill="#9b00d0"/>
<circle cx="203.17" cy="55" r="2.45" fill="#9b00d0"/>
<circle cx="211.5" cy="55.7" r="2.45" fill="#9b00d0"/>
<circle cx="219.83" cy="55.7" r="2.45" fill="#9b00d0"/>
<circle cx="228.17" cy="56.3" r="2.45" fill="#9b00d0"/>
<circle cx="236.5" cy="55.8" r="2.45" fill="#9b00d0"/>
<circle cx="244.83" cy="55.8" r="2.45" fill="#9b00d0"/>
<circle cx="253.17" cy="56.8" r="2.45" fill="#9b00d0"/>
<circle cx="261.5" cy="56.8" r="2.45" fill="#9b00d0"/>
<circle cx="269.83" cy="56.8" r="2.45" fill="#9b00d0"/>
<circle cx="278.17" cy="56.8" r="2.45" fill="#9b00d0"/>
<circle cx="286.5" cy="56.8" r="2.45" fill="#9b00d0"/>
<circle cx="294.83" cy="56.8" r="2.45" fill="#9b00d0"/>
<circle cx="303.17" cy="58.2" r="2.45" fill="#9b00d0"/>
<circle cx="311.5" cy="58.2" r="2.45" fill="#9b00d0"/>
</g>
<g clip-path="url(#clipB)">
<line x1="398.8" y1="37.4" x2="649" y2="37.4" stroke="#b2b2b2" stroke-width="1" />
<polyline points="407.14,158.5 415.48,157 423.82,156.25 432.16,173.75 440.5,173.8 448.84,173.9 457.18,173.9 465.52,173.9 473.86,173.9 482.2,173.9 490.54,173.9 498.88,173.9 507.22,173.9 515.56,173.9 523.9,173.9 532.24,173.9 540.58,173.9 548.92,173.9 557.26,173.9 565.6,173.9 573.94,173.9 582.28,173.9 590.62,173.9 598.96,173.9 607.3,173.9 615.64,173.9 623.98,173.9 632.32,173.9 640.66,173.9 649,173.9" fill="none" stroke="#ff8080" stroke-width="0.8" stroke-opacity="1.0"/>
<polyline points="407.14,16.75 415.48,145.8 423.82,150 432.16,172 440.5,172.7 448.84,172.7 457.18,172.7 465.52,172.7 473.86,172.7 482.2,172.7 490.54,172.7 498.88,172.7 507.22,172.7 515.56,172.7 523.9,172.7 532.24,172.7 540.58,172.7 548.92,172.7 557.26,172.7 565.6,172.7 573.94,172.7 582.28,172.7 590.62,172.7 598.96,172.7 607.3,172.7 615.64,172.7 623.98,172.7 632.32,172.7 640.66,172.7 649,172.7" fill="none" stroke="#ff8080" stroke-width="0.8" stroke-opacity="1.0"/>
<polyline points="407.14,180.8 415.48,69.25 423.82,56.5 432.16,48.5 440.5,43.5 448.84,42.3 457.18,42 465.52,41.6 473.86,41.3 482.2,41.2 490.54,41.1 498.88,41 507.22,40.9 515.56,40.8 523.9,40.7 532.24,40.7 540.58,40.6 548.92,40.6 557.26,40.5 565.6,40.4 573.94,40.3 582.28,40.2 590.62,40.1 598.96,40 607.3,40 615.64,39.9 623.98,39.9 632.32,39.8 640.66,39.8 649,39.8" fill="none" stroke="#ff8080" stroke-width="0.8" stroke-opacity="1.0"/>
<polyline points="407.14,146.5 415.48,144 423.82,147 432.16,166.25 440.5,167 448.84,167 457.18,167 465.52,167 473.86,167 482.2,167 490.54,167 498.88,167 507.22,167 515.56,167 523.9,167 532.24,167 540.58,167 548.92,167 557.26,167 565.6,167 573.94,167 582.28,167 590.62,167 598.96,167 607.3,167 615.64,167 623.98,167 632.32,167 640.66,167 649,167" fill="none" stroke="#cfcfcf" stroke-width="0.8" stroke-opacity="1.0"/>
<polyline points="407.14,94 415.48,142.6 423.82,145.75 432.16,164.5 440.5,166.5 448.84,166.5 457.18,166.5 465.52,166.5 473.86,166.5 482.2,166.5 490.54,166.5 498.88,166.5 507.22,166.5 515.56,166.5 523.9,166.5 532.24,166.5 540.58,166.5 548.92,166.5 557.26,166.5 565.6,166.5 573.94,166.5 582.28,166.5 590.62,166.5 598.96,166.5 607.3,166.5 615.64,166.5 623.98,166.5 632.32,166.5 640.66,166.5 649,166.5" fill="none" stroke="#cfcfcf" stroke-width="0.8" stroke-opacity="1.0"/>
<polyline points="407.14,163.3 415.48,50.25 423.82,41.9 432.16,43 440.5,40.6 448.84,40.4 457.18,40.1 465.52,39.6 473.86,39.2 482.2,39.1 490.54,39 498.88,38.9 507.22,38.8 515.56,38.7 523.9,38.6 532.24,38.6 540.58,38.6 548.92,38.5 557.26,38.5 565.6,38.3 573.94,38.2 582.28,38.1 590.62,38 598.96,37.9 607.3,37.8 615.64,37.7 623.98,37.7 632.32,37.6 640.66,37.6 649,37.6" fill="none" stroke="#cfcfcf" stroke-width="0.8" stroke-opacity="1.0"/>
<polyline points="407.14,171.25 415.48,176.25 423.82,178 432.16,193.75 440.5,198 448.84,198.4 457.18,198.4 465.52,198.4 473.86,198.4 482.2,198.4 490.54,198.4 498.88,198.4 507.22,198.4 515.56,198.4 523.9,198.4 532.24,198.4 540.58,198.4 548.92,198.4 557.26,198.4 565.6,198.4 573.94,198.4 582.28,198.4 590.62,198.4 598.96,198.4 607.3,198.4 615.64,198.4 623.98,198.4 632.32,198.4 640.66,198.4 649,198.4" fill="none" stroke="#e8c866" stroke-width="0.8" stroke-opacity="1.0"/>
<polyline points="407.14,132.8 415.48,170 423.82,173.75 432.16,195.75 440.5,196.8 448.84,198 457.18,198 465.52,198 473.86,198 482.2,198 490.54,198 498.88,198 507.22,198 515.56,198 523.9,198 532.24,198 540.58,198 548.92,198 557.26,198 565.6,198 573.94,198 582.28,198 590.62,198 598.96,198 607.3,198 615.64,198 623.98,198 632.32,198 640.66,198 649,198" fill="none" stroke="#e8c866" stroke-width="0.8" stroke-opacity="1.0"/>
<polyline points="407.14,126.25 415.48,67 423.82,60.6 432.16,59.4 440.5,58.75 448.84,45.8 457.18,45.4 465.52,44.9 473.86,44.9 482.2,44.7 490.54,44.6 498.88,44.5 507.22,44.4 515.56,44.3 523.9,44.2 532.24,44.1 540.58,44 548.92,44 557.26,44 565.6,43.9 573.94,43.8 582.28,43.7 590.62,43.6 598.96,43.6 607.3,43.5 615.64,43.5 623.98,43.4 632.32,43.4 640.66,43.3 649,43.3" fill="none" stroke="#e8c866" stroke-width="0.8" stroke-opacity="1.0"/>
<polyline points="407.14,139 415.48,139.6 423.82,140.5 432.16,159 440.5,158.6 448.84,158.6 457.18,158.6 465.52,158.6 473.86,158.6 482.2,158.6 490.54,158.6 498.88,158.6 507.22,158.6 515.56,158.6 523.9,158.6 532.24,158.6 540.58,158.6 548.92,158.6 557.26,158.6 565.6,158.6 573.94,158.6 582.28,158.6 590.62,158.6 598.96,158.6 607.3,158.6 615.64,158.6 623.98,158.6 632.32,158.6 640.66,158.6 649,158.6" fill="none" stroke="#66c4c4" stroke-width="0.8" stroke-opacity="1.0"/>
<polyline points="407.14,62.6 415.48,133.3 423.82,137.5 432.16,157.3 440.5,157.8 448.84,157.9 457.18,157.9 465.52,157.9 473.86,157.9 482.2,157.9 490.54,157.9 498.88,157.9 507.22,157.9 515.56,157.9 523.9,157.9 532.24,157.9 540.58,157.9 548.92,157.9 557.26,157.9 565.6,157.9 573.94,157.9 582.28,157.9 590.62,157.9 598.96,157.9 607.3,157.9 615.64,157.9 623.98,157.9 632.32,157.9 640.66,157.9 649,157.9" fill="none" stroke="#66c4c4" stroke-width="0.8" stroke-opacity="1.0"/>
<polyline points="407.14,163.5 415.48,53.75 423.82,44.75 432.16,44 440.5,40.6 448.84,40.1 457.18,39.8 465.52,39.3 473.86,38.9 482.2,38.8 490.54,38.7 498.88,38.6 507.22,38.5 515.56,38.4 523.9,38.3 532.24,38.3 540.58,38.3 548.92,38.2 557.26,38.2 565.6,38 573.94,37.9 582.28,37.8 590.62,37.7 598.96,37.6 607.3,37.5 615.64,37.4 623.98,37.4 632.32,37.3 640.66,37.3 649,37.3" fill="none" stroke="#66c4c4" stroke-width="0.8" stroke-opacity="1.0"/>
<rect x="405.14" y="156.5" width="4" height="4" fill="#ff0a0a"/>
<rect x="413.48" y="155" width="4" height="4" fill="#ff0a0a"/>
<rect x="421.82" y="154.25" width="4" height="4" fill="#ff0a0a"/>
<rect x="430.16" y="171.75" width="4" height="4" fill="#ff0a0a"/>
<rect x="438.5" y="171.8" width="4" height="4" fill="#ff0a0a"/>
<rect x="446.84" y="171.9" width="4" height="4" fill="#ff0a0a"/>
<rect x="455.18" y="171.9" width="4" height="4" fill="#ff0a0a"/>
<rect x="463.52" y="171.9" width="4" height="4" fill="#ff0a0a"/>
<rect x="471.86" y="171.9" width="4" height="4" fill="#ff0a0a"/>
<rect x="480.2" y="171.9" width="4" height="4" fill="#ff0a0a"/>
<rect x="488.54" y="171.9" width="4" height="4" fill="#ff0a0a"/>
<rect x="496.88" y="171.9" width="4" height="4" fill="#ff0a0a"/>
<rect x="505.22" y="171.9" width="4" height="4" fill="#ff0a0a"/>
<rect x="513.56" y="171.9" width="4" height="4" fill="#ff0a0a"/>
<rect x="521.9" y="171.9" width="4" height="4" fill="#ff0a0a"/>
<rect x="530.24" y="171.9" width="4" height="4" fill="#ff0a0a"/>
<rect x="538.58" y="171.9" width="4" height="4" fill="#ff0a0a"/>
<rect x="546.92" y="171.9" width="4" height="4" fill="#ff0a0a"/>
<rect x="555.26" y="171.9" width="4" height="4" fill="#ff0a0a"/>
<rect x="563.6" y="171.9" width="4" height="4" fill="#ff0a0a"/>
<rect x="571.94" y="171.9" width="4" height="4" fill="#ff0a0a"/>
<rect x="580.28" y="171.9" width="4" height="4" fill="#ff0a0a"/>
<rect x="588.62" y="171.9" width="4" height="4" fill="#ff0a0a"/>
<rect x="596.96" y="171.9" width="4" height="4" fill="#ff0a0a"/>
<rect x="605.3" y="171.9" width="4" height="4" fill="#ff0a0a"/>
<rect x="613.64" y="171.9" width="4" height="4" fill="#ff0a0a"/>
<rect x="621.98" y="171.9" width="4" height="4" fill="#ff0a0a"/>
<rect x="630.32" y="171.9" width="4" height="4" fill="#ff0a0a"/>
<rect x="638.66" y="171.9" width="4" height="4" fill="#ff0a0a"/>
<rect x="647" y="171.9" width="4" height="4" fill="#ff0a0a"/>
<rect x="405.39" y="15" width="3.5" height="3.5" fill="#fff" stroke="#ff7878" stroke-width="0.9"/>
<rect x="413.73" y="144.05" width="3.5" height="3.5" fill="#fff" stroke="#ff7878" stroke-width="0.9"/>
<rect x="422.07" y="148.25" width="3.5" height="3.5" fill="#fff" stroke="#ff7878" stroke-width="0.9"/>
<rect x="430.41" y="170.25" width="3.5" height="3.5" fill="#fff" stroke="#ff7878" stroke-width="0.9"/>
<rect x="438.75" y="170.95" width="3.5" height="3.5" fill="#fff" stroke="#ff7878" stroke-width="0.9"/>
<rect x="447.09" y="170.95" width="3.5" height="3.5" fill="#fff" stroke="#ff7878" stroke-width="0.9"/>
<rect x="455.43" y="170.95" width="3.5" height="3.5" fill="#fff" stroke="#ff7878" stroke-width="0.9"/>
<rect x="463.77" y="170.95" width="3.5" height="3.5" fill="#fff" stroke="#ff7878" stroke-width="0.9"/>
<rect x="472.11" y="170.95" width="3.5" height="3.5" fill="#fff" stroke="#ff7878" stroke-width="0.9"/>
<rect x="480.45" y="170.95" width="3.5" height="3.5" fill="#fff" stroke="#ff7878" stroke-width="0.9"/>
<rect x="488.79" y="170.95" width="3.5" height="3.5" fill="#fff" stroke="#ff7878" stroke-width="0.9"/>
<rect x="497.13" y="170.95" width="3.5" height="3.5" fill="#fff" stroke="#ff7878" stroke-width="0.9"/>
<rect x="505.47" y="170.95" width="3.5" height="3.5" fill="#fff" stroke="#ff7878" stroke-width="0.9"/>
<rect x="513.81" y="170.95" width="3.5" height="3.5" fill="#fff" stroke="#ff7878" stroke-width="0.9"/>
<rect x="522.15" y="170.95" width="3.5" height="3.5" fill="#fff" stroke="#ff7878" stroke-width="0.9"/>
<rect x="530.49" y="170.95" width="3.5" height="3.5" fill="#fff" stroke="#ff7878" stroke-width="0.9"/>
<rect x="538.83" y="170.95" width="3.5" height="3.5" fill="#fff" stroke="#ff7878" stroke-width="0.9"/>
<rect x="547.17" y="170.95" width="3.5" height="3.5" fill="#fff" stroke="#ff7878" stroke-width="0.9"/>
<rect x="555.51" y="170.95" width="3.5" height="3.5" fill="#fff" stroke="#ff7878" stroke-width="0.9"/>
<rect x="563.85" y="170.95" width="3.5" height="3.5" fill="#fff" stroke="#ff7878" stroke-width="0.9"/>
<rect x="572.19" y="170.95" width="3.5" height="3.5" fill="#fff" stroke="#ff7878" stroke-width="0.9"/>
<rect x="580.53" y="170.95" width="3.5" height="3.5" fill="#fff" stroke="#ff7878" stroke-width="0.9"/>
<rect x="588.87" y="170.95" width="3.5" height="3.5" fill="#fff" stroke="#ff7878" stroke-width="0.9"/>
<rect x="597.21" y="170.95" width="3.5" height="3.5" fill="#fff" stroke="#ff7878" stroke-width="0.9"/>
<rect x="605.55" y="170.95" width="3.5" height="3.5" fill="#fff" stroke="#ff7878" stroke-width="0.9"/>
<rect x="613.89" y="170.95" width="3.5" height="3.5" fill="#fff" stroke="#ff7878" stroke-width="0.9"/>
<rect x="622.23" y="170.95" width="3.5" height="3.5" fill="#fff" stroke="#ff7878" stroke-width="0.9"/>
<rect x="630.57" y="170.95" width="3.5" height="3.5" fill="#fff" stroke="#ff7878" stroke-width="0.9"/>
<rect x="638.91" y="170.95" width="3.5" height="3.5" fill="#fff" stroke="#ff7878" stroke-width="0.9"/>
<rect x="647.25" y="170.95" width="3.5" height="3.5" fill="#fff" stroke="#ff7878" stroke-width="0.9"/>
<circle cx="407.14" cy="180.8" r="2.45" fill="#ff0a0a"/>
<circle cx="415.48" cy="69.25" r="2.45" fill="#ff0a0a"/>
<circle cx="423.82" cy="56.5" r="2.45" fill="#ff0a0a"/>
<circle cx="432.16" cy="48.5" r="2.45" fill="#ff0a0a"/>
<circle cx="440.5" cy="43.5" r="2.45" fill="#ff0a0a"/>
<circle cx="448.84" cy="42.3" r="2.45" fill="#ff0a0a"/>
<circle cx="457.18" cy="42" r="2.45" fill="#ff0a0a"/>
<circle cx="465.52" cy="41.6" r="2.45" fill="#ff0a0a"/>
<circle cx="473.86" cy="41.3" r="2.45" fill="#ff0a0a"/>
<circle cx="482.2" cy="41.2" r="2.45" fill="#ff0a0a"/>
<circle cx="490.54" cy="41.1" r="2.45" fill="#ff0a0a"/>
<circle cx="498.88" cy="41" r="2.45" fill="#ff0a0a"/>
<circle cx="507.22" cy="40.9" r="2.45" fill="#ff0a0a"/>
<circle cx="515.56" cy="40.8" r="2.45" fill="#ff0a0a"/>
<circle cx="523.9" cy="40.7" r="2.45" fill="#ff0a0a"/>
<circle cx="532.24" cy="40.7" r="2.45" fill="#ff0a0a"/>
<circle cx="540.58" cy="40.6" r="2.45" fill="#ff0a0a"/>
<circle cx="548.92" cy="40.6" r="2.45" fill="#ff0a0a"/>
<circle cx="557.26" cy="40.5" r="2.45" fill="#ff0a0a"/>
<circle cx="565.6" cy="40.4" r="2.45" fill="#ff0a0a"/>
<circle cx="573.94" cy="40.3" r="2.45" fill="#ff0a0a"/>
<circle cx="582.28" cy="40.2" r="2.45" fill="#ff0a0a"/>
<circle cx="590.62" cy="40.1" r="2.45" fill="#ff0a0a"/>
<circle cx="598.96" cy="40" r="2.45" fill="#ff0a0a"/>
<circle cx="607.3" cy="40" r="2.45" fill="#ff0a0a"/>
<circle cx="615.64" cy="39.9" r="2.45" fill="#ff0a0a"/>
<circle cx="623.98" cy="39.9" r="2.45" fill="#ff0a0a"/>
<circle cx="632.32" cy="39.8" r="2.45" fill="#ff0a0a"/>
<circle cx="640.66" cy="39.8" r="2.45" fill="#ff0a0a"/>
<circle cx="649" cy="39.8" r="2.45" fill="#ff0a0a"/>
<rect x="405.14" y="144.5" width="4" height="4" fill="#a8a8a8"/>
<rect x="413.48" y="142" width="4" height="4" fill="#a8a8a8"/>
<rect x="421.82" y="145" width="4" height="4" fill="#a8a8a8"/>
<rect x="430.16" y="164.25" width="4" height="4" fill="#a8a8a8"/>
<rect x="438.5" y="165" width="4" height="4" fill="#a8a8a8"/>
<rect x="446.84" y="165" width="4" height="4" fill="#a8a8a8"/>
<rect x="455.18" y="165" width="4" height="4" fill="#a8a8a8"/>
<rect x="463.52" y="165" width="4" height="4" fill="#a8a8a8"/>
<rect x="471.86" y="165" width="4" height="4" fill="#a8a8a8"/>
<rect x="480.2" y="165" width="4" height="4" fill="#a8a8a8"/>
<rect x="488.54" y="165" width="4" height="4" fill="#a8a8a8"/>
<rect x="496.88" y="165" width="4" height="4" fill="#a8a8a8"/>
<rect x="505.22" y="165" width="4" height="4" fill="#a8a8a8"/>
<rect x="513.56" y="165" width="4" height="4" fill="#a8a8a8"/>
<rect x="521.9" y="165" width="4" height="4" fill="#a8a8a8"/>
<rect x="530.24" y="165" width="4" height="4" fill="#a8a8a8"/>
<rect x="538.58" y="165" width="4" height="4" fill="#a8a8a8"/>
<rect x="546.92" y="165" width="4" height="4" fill="#a8a8a8"/>
<rect x="555.26" y="165" width="4" height="4" fill="#a8a8a8"/>
<rect x="563.6" y="165" width="4" height="4" fill="#a8a8a8"/>
<rect x="571.94" y="165" width="4" height="4" fill="#a8a8a8"/>
<rect x="580.28" y="165" width="4" height="4" fill="#a8a8a8"/>
<rect x="588.62" y="165" width="4" height="4" fill="#a8a8a8"/>
<rect x="596.96" y="165" width="4" height="4" fill="#a8a8a8"/>
<rect x="605.3" y="165" width="4" height="4" fill="#a8a8a8"/>
<rect x="613.64" y="165" width="4" height="4" fill="#a8a8a8"/>
<rect x="621.98" y="165" width="4" height="4" fill="#a8a8a8"/>
<rect x="630.32" y="165" width="4" height="4" fill="#a8a8a8"/>
<rect x="638.66" y="165" width="4" height="4" fill="#a8a8a8"/>
<rect x="647" y="165" width="4" height="4" fill="#a8a8a8"/>
<rect x="405.39" y="92.25" width="3.5" height="3.5" fill="#fff" stroke="#cfcfcf" stroke-width="0.9"/>
<rect x="413.73" y="140.85" width="3.5" height="3.5" fill="#fff" stroke="#cfcfcf" stroke-width="0.9"/>
<rect x="422.07" y="144" width="3.5" height="3.5" fill="#fff" stroke="#cfcfcf" stroke-width="0.9"/>
<rect x="430.41" y="162.75" width="3.5" height="3.5" fill="#fff" stroke="#cfcfcf" stroke-width="0.9"/>
<rect x="438.75" y="164.75" width="3.5" height="3.5" fill="#fff" stroke="#cfcfcf" stroke-width="0.9"/>
<rect x="447.09" y="164.75" width="3.5" height="3.5" fill="#fff" stroke="#cfcfcf" stroke-width="0.9"/>
<rect x="455.43" y="164.75" width="3.5" height="3.5" fill="#fff" stroke="#cfcfcf" stroke-width="0.9"/>
<rect x="463.77" y="164.75" width="3.5" height="3.5" fill="#fff" stroke="#cfcfcf" stroke-width="0.9"/>
<rect x="472.11" y="164.75" width="3.5" height="3.5" fill="#fff" stroke="#cfcfcf" stroke-width="0.9"/>
<rect x="480.45" y="164.75" width="3.5" height="3.5" fill="#fff" stroke="#cfcfcf" stroke-width="0.9"/>
<rect x="488.79" y="164.75" width="3.5" height="3.5" fill="#fff" stroke="#cfcfcf" stroke-width="0.9"/>
<rect x="497.13" y="164.75" width="3.5" height="3.5" fill="#fff" stroke="#cfcfcf" stroke-width="0.9"/>
<rect x="505.47" y="164.75" width="3.5" height="3.5" fill="#fff" stroke="#cfcfcf" stroke-width="0.9"/>
<rect x="513.81" y="164.75" width="3.5" height="3.5" fill="#fff" stroke="#cfcfcf" stroke-width="0.9"/>
<rect x="522.15" y="164.75" width="3.5" height="3.5" fill="#fff" stroke="#cfcfcf" stroke-width="0.9"/>
<rect x="530.49" y="164.75" width="3.5" height="3.5" fill="#fff" stroke="#cfcfcf" stroke-width="0.9"/>
<rect x="538.83" y="164.75" width="3.5" height="3.5" fill="#fff" stroke="#cfcfcf" stroke-width="0.9"/>
<rect x="547.17" y="164.75" width="3.5" height="3.5" fill="#fff" stroke="#cfcfcf" stroke-width="0.9"/>
<rect x="555.51" y="164.75" width="3.5" height="3.5" fill="#fff" stroke="#cfcfcf" stroke-width="0.9"/>
<rect x="563.85" y="164.75" width="3.5" height="3.5" fill="#fff" stroke="#cfcfcf" stroke-width="0.9"/>
<rect x="572.19" y="164.75" width="3.5" height="3.5" fill="#fff" stroke="#cfcfcf" stroke-width="0.9"/>
<rect x="580.53" y="164.75" width="3.5" height="3.5" fill="#fff" stroke="#cfcfcf" stroke-width="0.9"/>
<rect x="588.87" y="164.75" width="3.5" height="3.5" fill="#fff" stroke="#cfcfcf" stroke-width="0.9"/>
<rect x="597.21" y="164.75" width="3.5" height="3.5" fill="#fff" stroke="#cfcfcf" stroke-width="0.9"/>
<rect x="605.55" y="164.75" width="3.5" height="3.5" fill="#fff" stroke="#cfcfcf" stroke-width="0.9"/>
<rect x="613.89" y="164.75" width="3.5" height="3.5" fill="#fff" stroke="#cfcfcf" stroke-width="0.9"/>
<rect x="622.23" y="164.75" width="3.5" height="3.5" fill="#fff" stroke="#cfcfcf" stroke-width="0.9"/>
<rect x="630.57" y="164.75" width="3.5" height="3.5" fill="#fff" stroke="#cfcfcf" stroke-width="0.9"/>
<rect x="638.91" y="164.75" width="3.5" height="3.5" fill="#fff" stroke="#cfcfcf" stroke-width="0.9"/>
<rect x="647.25" y="164.75" width="3.5" height="3.5" fill="#fff" stroke="#cfcfcf" stroke-width="0.9"/>
<circle cx="407.14" cy="163.3" r="2.45" fill="#a8a8a8"/>
<circle cx="415.48" cy="50.25" r="2.45" fill="#a8a8a8"/>
<circle cx="423.82" cy="41.9" r="2.45" fill="#a8a8a8"/>
<circle cx="432.16" cy="43" r="2.45" fill="#a8a8a8"/>
<circle cx="440.5" cy="40.6" r="2.45" fill="#a8a8a8"/>
<circle cx="448.84" cy="40.4" r="2.45" fill="#a8a8a8"/>
<circle cx="457.18" cy="40.1" r="2.45" fill="#a8a8a8"/>
<circle cx="465.52" cy="39.6" r="2.45" fill="#a8a8a8"/>
<circle cx="473.86" cy="39.2" r="2.45" fill="#a8a8a8"/>
<circle cx="482.2" cy="39.1" r="2.45" fill="#a8a8a8"/>
<circle cx="490.54" cy="39" r="2.45" fill="#a8a8a8"/>
<circle cx="498.88" cy="38.9" r="2.45" fill="#a8a8a8"/>
<circle cx="507.22" cy="38.8" r="2.45" fill="#a8a8a8"/>
<circle cx="515.56" cy="38.7" r="2.45" fill="#a8a8a8"/>
<circle cx="523.9" cy="38.6" r="2.45" fill="#a8a8a8"/>
<circle cx="532.24" cy="38.6" r="2.45" fill="#a8a8a8"/>
<circle cx="540.58" cy="38.6" r="2.45" fill="#a8a8a8"/>
<circle cx="548.92" cy="38.5" r="2.45" fill="#a8a8a8"/>
<circle cx="557.26" cy="38.5" r="2.45" fill="#a8a8a8"/>
<circle cx="565.6" cy="38.3" r="2.45" fill="#a8a8a8"/>
<circle cx="573.94" cy="38.2" r="2.45" fill="#a8a8a8"/>
<circle cx="582.28" cy="38.1" r="2.45" fill="#a8a8a8"/>
<circle cx="590.62" cy="38" r="2.45" fill="#a8a8a8"/>
<circle cx="598.96" cy="37.9" r="2.45" fill="#a8a8a8"/>
<circle cx="607.3" cy="37.8" r="2.45" fill="#a8a8a8"/>
<circle cx="615.64" cy="37.7" r="2.45" fill="#a8a8a8"/>
<circle cx="623.98" cy="37.7" r="2.45" fill="#a8a8a8"/>
<circle cx="632.32" cy="37.6" r="2.45" fill="#a8a8a8"/>
<circle cx="640.66" cy="37.6" r="2.45" fill="#a8a8a8"/>
<circle cx="649" cy="37.6" r="2.45" fill="#a8a8a8"/>
<rect x="405.14" y="169.25" width="4" height="4" fill="#d6a000"/>
<rect x="413.48" y="174.25" width="4" height="4" fill="#d6a000"/>
<rect x="421.82" y="176" width="4" height="4" fill="#d6a000"/>
<rect x="430.16" y="191.75" width="4" height="4" fill="#d6a000"/>
<rect x="438.5" y="196" width="4" height="4" fill="#d6a000"/>
<rect x="446.84" y="196.4" width="4" height="4" fill="#d6a000"/>
<rect x="455.18" y="196.4" width="4" height="4" fill="#d6a000"/>
<rect x="463.52" y="196.4" width="4" height="4" fill="#d6a000"/>
<rect x="471.86" y="196.4" width="4" height="4" fill="#d6a000"/>
<rect x="480.2" y="196.4" width="4" height="4" fill="#d6a000"/>
<rect x="488.54" y="196.4" width="4" height="4" fill="#d6a000"/>
<rect x="496.88" y="196.4" width="4" height="4" fill="#d6a000"/>
<rect x="505.22" y="196.4" width="4" height="4" fill="#d6a000"/>
<rect x="513.56" y="196.4" width="4" height="4" fill="#d6a000"/>
<rect x="521.9" y="196.4" width="4" height="4" fill="#d6a000"/>
<rect x="530.24" y="196.4" width="4" height="4" fill="#d6a000"/>
<rect x="538.58" y="196.4" width="4" height="4" fill="#d6a000"/>
<rect x="546.92" y="196.4" width="4" height="4" fill="#d6a000"/>
<rect x="555.26" y="196.4" width="4" height="4" fill="#d6a000"/>
<rect x="563.6" y="196.4" width="4" height="4" fill="#d6a000"/>
<rect x="571.94" y="196.4" width="4" height="4" fill="#d6a000"/>
<rect x="580.28" y="196.4" width="4" height="4" fill="#d6a000"/>
<rect x="588.62" y="196.4" width="4" height="4" fill="#d6a000"/>
<rect x="596.96" y="196.4" width="4" height="4" fill="#d6a000"/>
<rect x="605.3" y="196.4" width="4" height="4" fill="#d6a000"/>
<rect x="613.64" y="196.4" width="4" height="4" fill="#d6a000"/>
<rect x="621.98" y="196.4" width="4" height="4" fill="#d6a000"/>
<rect x="630.32" y="196.4" width="4" height="4" fill="#d6a000"/>
<rect x="638.66" y="196.4" width="4" height="4" fill="#d6a000"/>
<rect x="647" y="196.4" width="4" height="4" fill="#d6a000"/>
<rect x="405.39" y="131.05" width="3.5" height="3.5" fill="#fff" stroke="#e8cb73" stroke-width="0.9"/>
<rect x="413.73" y="168.25" width="3.5" height="3.5" fill="#fff" stroke="#e8cb73" stroke-width="0.9"/>
<rect x="422.07" y="172" width="3.5" height="3.5" fill="#fff" stroke="#e8cb73" stroke-width="0.9"/>
<rect x="430.41" y="194" width="3.5" height="3.5" fill="#fff" stroke="#e8cb73" stroke-width="0.9"/>
<rect x="438.75" y="195.05" width="3.5" height="3.5" fill="#fff" stroke="#e8cb73" stroke-width="0.9"/>
<rect x="447.09" y="196.25" width="3.5" height="3.5" fill="#fff" stroke="#e8cb73" stroke-width="0.9"/>
<rect x="455.43" y="196.25" width="3.5" height="3.5" fill="#fff" stroke="#e8cb73" stroke-width="0.9"/>
<rect x="463.77" y="196.25" width="3.5" height="3.5" fill="#fff" stroke="#e8cb73" stroke-width="0.9"/>
<rect x="472.11" y="196.25" width="3.5" height="3.5" fill="#fff" stroke="#e8cb73" stroke-width="0.9"/>
<rect x="480.45" y="196.25" width="3.5" height="3.5" fill="#fff" stroke="#e8cb73" stroke-width="0.9"/>
<rect x="488.79" y="196.25" width="3.5" height="3.5" fill="#fff" stroke="#e8cb73" stroke-width="0.9"/>
<rect x="497.13" y="196.25" width="3.5" height="3.5" fill="#fff" stroke="#e8cb73" stroke-width="0.9"/>
<rect x="505.47" y="196.25" width="3.5" height="3.5" fill="#fff" stroke="#e8cb73" stroke-width="0.9"/>
<rect x="513.81" y="196.25" width="3.5" height="3.5" fill="#fff" stroke="#e8cb73" stroke-width="0.9"/>
<rect x="522.15" y="196.25" width="3.5" height="3.5" fill="#fff" stroke="#e8cb73" stroke-width="0.9"/>
<rect x="530.49" y="196.25" width="3.5" height="3.5" fill="#fff" stroke="#e8cb73" stroke-width="0.9"/>
<rect x="538.83" y="196.25" width="3.5" height="3.5" fill="#fff" stroke="#e8cb73" stroke-width="0.9"/>
<rect x="547.17" y="196.25" width="3.5" height="3.5" fill="#fff" stroke="#e8cb73" stroke-width="0.9"/>
<rect x="555.51" y="196.25" width="3.5" height="3.5" fill="#fff" stroke="#e8cb73" stroke-width="0.9"/>
<rect x="563.85" y="196.25" width="3.5" height="3.5" fill="#fff" stroke="#e8cb73" stroke-width="0.9"/>
<rect x="572.19" y="196.25" width="3.5" height="3.5" fill="#fff" stroke="#e8cb73" stroke-width="0.9"/>
<rect x="580.53" y="196.25" width="3.5" height="3.5" fill="#fff" stroke="#e8cb73" stroke-width="0.9"/>
<rect x="588.87" y="196.25" width="3.5" height="3.5" fill="#fff" stroke="#e8cb73" stroke-width="0.9"/>
<rect x="597.21" y="196.25" width="3.5" height="3.5" fill="#fff" stroke="#e8cb73" stroke-width="0.9"/>
<rect x="605.55" y="196.25" width="3.5" height="3.5" fill="#fff" stroke="#e8cb73" stroke-width="0.9"/>
<rect x="613.89" y="196.25" width="3.5" height="3.5" fill="#fff" stroke="#e8cb73" stroke-width="0.9"/>
<rect x="622.23" y="196.25" width="3.5" height="3.5" fill="#fff" stroke="#e8cb73" stroke-width="0.9"/>
<rect x="630.57" y="196.25" width="3.5" height="3.5" fill="#fff" stroke="#e8cb73" stroke-width="0.9"/>
<rect x="638.91" y="196.25" width="3.5" height="3.5" fill="#fff" stroke="#e8cb73" stroke-width="0.9"/>
<rect x="647.25" y="196.25" width="3.5" height="3.5" fill="#fff" stroke="#e8cb73" stroke-width="0.9"/>
<circle cx="407.14" cy="126.25" r="2.45" fill="#d6a000"/>
<circle cx="415.48" cy="67" r="2.45" fill="#d6a000"/>
<circle cx="423.82" cy="60.6" r="2.45" fill="#d6a000"/>
<circle cx="432.16" cy="59.4" r="2.45" fill="#d6a000"/>
<circle cx="440.5" cy="58.75" r="2.45" fill="#d6a000"/>
<circle cx="448.84" cy="45.8" r="2.45" fill="#d6a000"/>
<circle cx="457.18" cy="45.4" r="2.45" fill="#d6a000"/>
<circle cx="465.52" cy="44.9" r="2.45" fill="#d6a000"/>
<circle cx="473.86" cy="44.9" r="2.45" fill="#d6a000"/>
<circle cx="482.2" cy="44.7" r="2.45" fill="#d6a000"/>
<circle cx="490.54" cy="44.6" r="2.45" fill="#d6a000"/>
<circle cx="498.88" cy="44.5" r="2.45" fill="#d6a000"/>
<circle cx="507.22" cy="44.4" r="2.45" fill="#d6a000"/>
<circle cx="515.56" cy="44.3" r="2.45" fill="#d6a000"/>
<circle cx="523.9" cy="44.2" r="2.45" fill="#d6a000"/>
<circle cx="532.24" cy="44.1" r="2.45" fill="#d6a000"/>
<circle cx="540.58" cy="44" r="2.45" fill="#d6a000"/>
<circle cx="548.92" cy="44" r="2.45" fill="#d6a000"/>
<circle cx="557.26" cy="44" r="2.45" fill="#d6a000"/>
<circle cx="565.6" cy="43.9" r="2.45" fill="#d6a000"/>
<circle cx="573.94" cy="43.8" r="2.45" fill="#d6a000"/>
<circle cx="582.28" cy="43.7" r="2.45" fill="#d6a000"/>
<circle cx="590.62" cy="43.6" r="2.45" fill="#d6a000"/>
<circle cx="598.96" cy="43.6" r="2.45" fill="#d6a000"/>
<circle cx="607.3" cy="43.5" r="2.45" fill="#d6a000"/>
<circle cx="615.64" cy="43.5" r="2.45" fill="#d6a000"/>
<circle cx="623.98" cy="43.4" r="2.45" fill="#d6a000"/>
<circle cx="632.32" cy="43.4" r="2.45" fill="#d6a000"/>
<circle cx="640.66" cy="43.3" r="2.45" fill="#d6a000"/>
<circle cx="649" cy="43.3" r="2.45" fill="#d6a000"/>
<rect x="405.14" y="137" width="4" height="4" fill="#009e9e"/>
<rect x="413.48" y="137.6" width="4" height="4" fill="#009e9e"/>
<rect x="421.82" y="138.5" width="4" height="4" fill="#009e9e"/>
<rect x="430.16" y="157" width="4" height="4" fill="#009e9e"/>
<rect x="438.5" y="156.6" width="4" height="4" fill="#009e9e"/>
<rect x="446.84" y="156.6" width="4" height="4" fill="#009e9e"/>
<rect x="455.18" y="156.6" width="4" height="4" fill="#009e9e"/>
<rect x="463.52" y="156.6" width="4" height="4" fill="#009e9e"/>
<rect x="471.86" y="156.6" width="4" height="4" fill="#009e9e"/>
<rect x="480.2" y="156.6" width="4" height="4" fill="#009e9e"/>
<rect x="488.54" y="156.6" width="4" height="4" fill="#009e9e"/>
<rect x="496.88" y="156.6" width="4" height="4" fill="#009e9e"/>
<rect x="505.22" y="156.6" width="4" height="4" fill="#009e9e"/>
<rect x="513.56" y="156.6" width="4" height="4" fill="#009e9e"/>
<rect x="521.9" y="156.6" width="4" height="4" fill="#009e9e"/>
<rect x="530.24" y="156.6" width="4" height="4" fill="#009e9e"/>
<rect x="538.58" y="156.6" width="4" height="4" fill="#009e9e"/>
<rect x="546.92" y="156.6" width="4" height="4" fill="#009e9e"/>
<rect x="555.26" y="156.6" width="4" height="4" fill="#009e9e"/>
<rect x="563.6" y="156.6" width="4" height="4" fill="#009e9e"/>
<rect x="571.94" y="156.6" width="4" height="4" fill="#009e9e"/>
<rect x="580.28" y="156.6" width="4" height="4" fill="#009e9e"/>
<rect x="588.62" y="156.6" width="4" height="4" fill="#009e9e"/>
<rect x="596.96" y="156.6" width="4" height="4" fill="#009e9e"/>
<rect x="605.3" y="156.6" width="4" height="4" fill="#009e9e"/>
<rect x="613.64" y="156.6" width="4" height="4" fill="#009e9e"/>
<rect x="621.98" y="156.6" width="4" height="4" fill="#009e9e"/>
<rect x="630.32" y="156.6" width="4" height="4" fill="#009e9e"/>
<rect x="638.66" y="156.6" width="4" height="4" fill="#009e9e"/>
<rect x="647" y="156.6" width="4" height="4" fill="#009e9e"/>
<rect x="405.39" y="60.85" width="3.5" height="3.5" fill="#fff" stroke="#73caca" stroke-width="0.9"/>
<rect x="413.73" y="131.55" width="3.5" height="3.5" fill="#fff" stroke="#73caca" stroke-width="0.9"/>
<rect x="422.07" y="135.75" width="3.5" height="3.5" fill="#fff" stroke="#73caca" stroke-width="0.9"/>
<rect x="430.41" y="155.55" width="3.5" height="3.5" fill="#fff" stroke="#73caca" stroke-width="0.9"/>
<rect x="438.75" y="156.05" width="3.5" height="3.5" fill="#fff" stroke="#73caca" stroke-width="0.9"/>
<rect x="447.09" y="156.15" width="3.5" height="3.5" fill="#fff" stroke="#73caca" stroke-width="0.9"/>
<rect x="455.43" y="156.15" width="3.5" height="3.5" fill="#fff" stroke="#73caca" stroke-width="0.9"/>
<rect x="463.77" y="156.15" width="3.5" height="3.5" fill="#fff" stroke="#73caca" stroke-width="0.9"/>
<rect x="472.11" y="156.15" width="3.5" height="3.5" fill="#fff" stroke="#73caca" stroke-width="0.9"/>
<rect x="480.45" y="156.15" width="3.5" height="3.5" fill="#fff" stroke="#73caca" stroke-width="0.9"/>
<rect x="488.79" y="156.15" width="3.5" height="3.5" fill="#fff" stroke="#73caca" stroke-width="0.9"/>
<rect x="497.13" y="156.15" width="3.5" height="3.5" fill="#fff" stroke="#73caca" stroke-width="0.9"/>
<rect x="505.47" y="156.15" width="3.5" height="3.5" fill="#fff" stroke="#73caca" stroke-width="0.9"/>
<rect x="513.81" y="156.15" width="3.5" height="3.5" fill="#fff" stroke="#73caca" stroke-width="0.9"/>
<rect x="522.15" y="156.15" width="3.5" height="3.5" fill="#fff" stroke="#73caca" stroke-width="0.9"/>
<rect x="530.49" y="156.15" width="3.5" height="3.5" fill="#fff" stroke="#73caca" stroke-width="0.9"/>
<rect x="538.83" y="156.15" width="3.5" height="3.5" fill="#fff" stroke="#73caca" stroke-width="0.9"/>
<rect x="547.17" y="156.15" width="3.5" height="3.5" fill="#fff" stroke="#73caca" stroke-width="0.9"/>
<rect x="555.51" y="156.15" width="3.5" height="3.5" fill="#fff" stroke="#73caca" stroke-width="0.9"/>
<rect x="563.85" y="156.15" width="3.5" height="3.5" fill="#fff" stroke="#73caca" stroke-width="0.9"/>
<rect x="572.19" y="156.15" width="3.5" height="3.5" fill="#fff" stroke="#73caca" stroke-width="0.9"/>
<rect x="580.53" y="156.15" width="3.5" height="3.5" fill="#fff" stroke="#73caca" stroke-width="0.9"/>
<rect x="588.87" y="156.15" width="3.5" height="3.5" fill="#fff" stroke="#73caca" stroke-width="0.9"/>
<rect x="597.21" y="156.15" width="3.5" height="3.5" fill="#fff" stroke="#73caca" stroke-width="0.9"/>
<rect x="605.55" y="156.15" width="3.5" height="3.5" fill="#fff" stroke="#73caca" stroke-width="0.9"/>
<rect x="613.89" y="156.15" width="3.5" height="3.5" fill="#fff" stroke="#73caca" stroke-width="0.9"/>
<rect x="622.23" y="156.15" width="3.5" height="3.5" fill="#fff" stroke="#73caca" stroke-width="0.9"/>
<rect x="630.57" y="156.15" width="3.5" height="3.5" fill="#fff" stroke="#73caca" stroke-width="0.9"/>
<rect x="638.91" y="156.15" width="3.5" height="3.5" fill="#fff" stroke="#73caca" stroke-width="0.9"/>
<rect x="647.25" y="156.15" width="3.5" height="3.5" fill="#fff" stroke="#73caca" stroke-width="0.9"/>
<circle cx="407.14" cy="163.5" r="2.45" fill="#009e9e"/>
<circle cx="415.48" cy="53.75" r="2.45" fill="#009e9e"/>
<circle cx="423.82" cy="44.75" r="2.45" fill="#009e9e"/>
<circle cx="432.16" cy="44" r="2.45" fill="#009e9e"/>
<circle cx="440.5" cy="40.6" r="2.45" fill="#009e9e"/>
<circle cx="448.84" cy="40.1" r="2.45" fill="#009e9e"/>
<circle cx="457.18" cy="39.8" r="2.45" fill="#009e9e"/>
<circle cx="465.52" cy="39.3" r="2.45" fill="#009e9e"/>
<circle cx="473.86" cy="38.9" r="2.45" fill="#009e9e"/>
<circle cx="482.2" cy="38.8" r="2.45" fill="#009e9e"/>
<circle cx="490.54" cy="38.7" r="2.45" fill="#009e9e"/>
<circle cx="498.88" cy="38.6" r="2.45" fill="#009e9e"/>
<circle cx="507.22" cy="38.5" r="2.45" fill="#009e9e"/>
<circle cx="515.56" cy="38.4" r="2.45" fill="#009e9e"/>
<circle cx="523.9" cy="38.3" r="2.45" fill="#009e9e"/>
<circle cx="532.24" cy="38.3" r="2.45" fill="#009e9e"/>
<circle cx="540.58" cy="38.3" r="2.45" fill="#009e9e"/>
<circle cx="548.92" cy="38.2" r="2.45" fill="#009e9e"/>
<circle cx="557.26" cy="38.2" r="2.45" fill="#009e9e"/>
<circle cx="565.6" cy="38" r="2.45" fill="#009e9e"/>
<circle cx="573.94" cy="37.9" r="2.45" fill="#009e9e"/>
<circle cx="582.28" cy="37.8" r="2.45" fill="#009e9e"/>
<circle cx="590.62" cy="37.7" r="2.45" fill="#009e9e"/>
<circle cx="598.96" cy="37.6" r="2.45" fill="#009e9e"/>
<circle cx="607.3" cy="37.5" r="2.45" fill="#009e9e"/>
<circle cx="615.64" cy="37.4" r="2.45" fill="#009e9e"/>
<circle cx="623.98" cy="37.4" r="2.45" fill="#009e9e"/>
<circle cx="632.32" cy="37.3" r="2.45" fill="#009e9e"/>
<circle cx="640.66" cy="37.3" r="2.45" fill="#009e9e"/>
<circle cx="649" cy="37.3" r="2.45" fill="#009e9e"/>
</g>
<line x1="60" y1="3.8" x2="311.5" y2="3.8" stroke="#333333" stroke-width="1.15" />
<line x1="311.5" y1="3.8" x2="311.5" y2="205.6" stroke="#333333" stroke-width="1.15" />
<line x1="61" y1="205.6" x2="312" y2="205.6" stroke="#333333" stroke-width="1.15" />
<line x1="61.5" y1="3.8" x2="61.5" y2="104" stroke="#333333" stroke-width="1.15" />
<line x1="61.5" y1="106.6" x2="61.5" y2="205.6" stroke="#333333" stroke-width="1.15" />
<line x1="57.5" y1="104.3" x2="65" y2="101.6" stroke="#333333" stroke-width="0.9" />
<line x1="57.5" y1="107.5" x2="65" y2="104.8" stroke="#333333" stroke-width="0.9" />
<line x1="57.2" y1="18" x2="61.5" y2="18" stroke="#333333" stroke-width="1.15" />
<text x="54.6" y="20.95" font-size="8.2" fill="#1a1a1a" text-anchor="end" font-weight="normal" stroke="#1a1a1a" stroke-width="0.28" >1600</text>
<line x1="57.2" y1="46.27" x2="61.5" y2="46.27" stroke="#333333" stroke-width="1.15" />
<text x="54.6" y="49.22" font-size="8.2" fill="#1a1a1a" text-anchor="end" font-weight="normal" stroke="#1a1a1a" stroke-width="0.28" >1400</text>
<line x1="57.2" y1="74.53" x2="61.5" y2="74.53" stroke="#333333" stroke-width="1.15" />
<text x="54.6" y="77.48" font-size="8.2" fill="#1a1a1a" text-anchor="end" font-weight="normal" stroke="#1a1a1a" stroke-width="0.28" >1200</text>
<line x1="57.2" y1="102.8" x2="61.5" y2="102.8" stroke="#333333" stroke-width="1.15" />
<text x="54.6" y="105.75" font-size="8.2" fill="#1a1a1a" text-anchor="end" font-weight="normal" stroke="#1a1a1a" stroke-width="0.28" >1000</text>
<line x1="59.2" y1="32.13" x2="61.5" y2="32.13" stroke="#333333" stroke-width="1.15" />
<line x1="59.2" y1="60.4" x2="61.5" y2="60.4" stroke="#333333" stroke-width="1.15" />
<line x1="59.2" y1="88.67" x2="61.5" y2="88.67" stroke="#333333" stroke-width="1.15" />
<line x1="57.2" y1="118.33" x2="61.5" y2="118.33" stroke="#333333" stroke-width="1.15" />
<text x="54.6" y="121.28" font-size="8.2" fill="#1a1a1a" text-anchor="end" font-weight="normal" stroke="#1a1a1a" stroke-width="0.28" >650</text>
<line x1="57.2" y1="130.8" x2="61.5" y2="130.8" stroke="#333333" stroke-width="1.15" />
<text x="54.6" y="133.75" font-size="8.2" fill="#1a1a1a" text-anchor="end" font-weight="normal" stroke="#1a1a1a" stroke-width="0.28" >600</text>
<line x1="57.2" y1="143.27" x2="61.5" y2="143.27" stroke="#333333" stroke-width="1.15" />
<text x="54.6" y="146.22" font-size="8.2" fill="#1a1a1a" text-anchor="end" font-weight="normal" stroke="#1a1a1a" stroke-width="0.28" >550</text>
<line x1="57.2" y1="155.73" x2="61.5" y2="155.73" stroke="#333333" stroke-width="1.15" />
<text x="54.6" y="158.68" font-size="8.2" fill="#1a1a1a" text-anchor="end" font-weight="normal" stroke="#1a1a1a" stroke-width="0.28" >500</text>
<line x1="57.2" y1="168.2" x2="61.5" y2="168.2" stroke="#333333" stroke-width="1.15" />
<text x="54.6" y="171.15" font-size="8.2" fill="#1a1a1a" text-anchor="end" font-weight="normal" stroke="#1a1a1a" stroke-width="0.28" >450</text>
<line x1="57.2" y1="180.67" x2="61.5" y2="180.67" stroke="#333333" stroke-width="1.15" />
<text x="54.6" y="183.62" font-size="8.2" fill="#1a1a1a" text-anchor="end" font-weight="normal" stroke="#1a1a1a" stroke-width="0.28" >400</text>
<line x1="57.2" y1="193.13" x2="61.5" y2="193.13" stroke="#333333" stroke-width="1.15" />
<text x="54.6" y="196.08" font-size="8.2" fill="#1a1a1a" text-anchor="end" font-weight="normal" stroke="#1a1a1a" stroke-width="0.28" >350</text>
<line x1="57.2" y1="205.6" x2="61.5" y2="205.6" stroke="#333333" stroke-width="1.15" />
<text x="54.6" y="208.55" font-size="8.2" fill="#1a1a1a" text-anchor="end" font-weight="normal" stroke="#1a1a1a" stroke-width="0.28" >300</text>
<line x1="59.2" y1="112.1" x2="61.5" y2="112.1" stroke="#333333" stroke-width="1.15" />
<line x1="59.2" y1="124.57" x2="61.5" y2="124.57" stroke="#333333" stroke-width="1.15" />
<line x1="59.2" y1="137.03" x2="61.5" y2="137.03" stroke="#333333" stroke-width="1.15" />
<line x1="59.2" y1="149.5" x2="61.5" y2="149.5" stroke="#333333" stroke-width="1.15" />
<line x1="59.2" y1="161.97" x2="61.5" y2="161.97" stroke="#333333" stroke-width="1.15" />
<line x1="59.2" y1="174.43" x2="61.5" y2="174.43" stroke="#333333" stroke-width="1.15" />
<line x1="59.2" y1="186.9" x2="61.5" y2="186.9" stroke="#333333" stroke-width="1.15" />
<line x1="59.2" y1="199.37" x2="61.5" y2="199.37" stroke="#333333" stroke-width="1.15" />
<line x1="311.5" y1="3.8" x2="315" y2="3.8" stroke="#333333" stroke-width="1.15" />
<text x="317.6" y="6.75" font-size="8.2" fill="#1a1a1a" text-anchor="start" font-weight="normal" stroke="#1a1a1a" stroke-width="0.28" >120</text>
<line x1="311.5" y1="48.7" x2="315" y2="48.7" stroke="#333333" stroke-width="1.15" />
<text x="317.6" y="51.65" font-size="8.2" fill="#1a1a1a" text-anchor="start" font-weight="normal" stroke="#1a1a1a" stroke-width="0.28" >100</text>
<line x1="311.5" y1="93.6" x2="315" y2="93.6" stroke="#333333" stroke-width="1.15" />
<text x="317.6" y="96.55" font-size="8.2" fill="#1a1a1a" text-anchor="start" font-weight="normal" stroke="#1a1a1a" stroke-width="0.28" >80</text>
<line x1="311.5" y1="138.5" x2="315" y2="138.5" stroke="#333333" stroke-width="1.15" />
<text x="317.6" y="141.45" font-size="8.2" fill="#1a1a1a" text-anchor="start" font-weight="normal" stroke="#1a1a1a" stroke-width="0.28" >60</text>
<line x1="311.5" y1="183.4" x2="315" y2="183.4" stroke="#333333" stroke-width="1.15" />
<text x="317.6" y="186.35" font-size="8.2" fill="#1a1a1a" text-anchor="start" font-weight="normal" stroke="#1a1a1a" stroke-width="0.28" >40</text>
<line x1="311.5" y1="26.25" x2="313.7" y2="26.25" stroke="#333333" stroke-width="1.15" />
<line x1="311.5" y1="71.15" x2="313.7" y2="71.15" stroke="#333333" stroke-width="1.15" />
<line x1="311.5" y1="116.05" x2="313.7" y2="116.05" stroke="#333333" stroke-width="1.15" />
<line x1="311.5" y1="160.95" x2="313.7" y2="160.95" stroke="#333333" stroke-width="1.15" />
<line x1="61.5" y1="205.6" x2="61.5" y2="209.6" stroke="#333333" stroke-width="1.15" />
<line x1="61.5" y1="3.8" x2="61.5" y2="7.8" stroke="#333333" stroke-width="1.15" />
<text x="61.5" y="219" font-size="8.2" fill="#1a1a1a" text-anchor="middle" font-weight="normal" stroke="#1a1a1a" stroke-width="0.28" >0</text>
<line x1="103.17" y1="205.6" x2="103.17" y2="209.6" stroke="#333333" stroke-width="1.15" />
<line x1="103.17" y1="3.8" x2="103.17" y2="7.8" stroke="#333333" stroke-width="1.15" />
<text x="103.17" y="219" font-size="8.2" fill="#1a1a1a" text-anchor="middle" font-weight="normal" stroke="#1a1a1a" stroke-width="0.28" >5</text>
<line x1="144.83" y1="205.6" x2="144.83" y2="209.6" stroke="#333333" stroke-width="1.15" />
<line x1="144.83" y1="3.8" x2="144.83" y2="7.8" stroke="#333333" stroke-width="1.15" />
<text x="144.83" y="219" font-size="8.2" fill="#1a1a1a" text-anchor="middle" font-weight="normal" stroke="#1a1a1a" stroke-width="0.28" >10</text>
<line x1="186.5" y1="205.6" x2="186.5" y2="209.6" stroke="#333333" stroke-width="1.15" />
<line x1="186.5" y1="3.8" x2="186.5" y2="7.8" stroke="#333333" stroke-width="1.15" />
<text x="186.5" y="219" font-size="8.2" fill="#1a1a1a" text-anchor="middle" font-weight="normal" stroke="#1a1a1a" stroke-width="0.28" >15</text>
<line x1="228.17" y1="205.6" x2="228.17" y2="209.6" stroke="#333333" stroke-width="1.15" />
<line x1="228.17" y1="3.8" x2="228.17" y2="7.8" stroke="#333333" stroke-width="1.15" />
<text x="228.17" y="219" font-size="8.2" fill="#1a1a1a" text-anchor="middle" font-weight="normal" stroke="#1a1a1a" stroke-width="0.28" >20</text>
<line x1="269.83" y1="205.6" x2="269.83" y2="209.6" stroke="#333333" stroke-width="1.15" />
<line x1="269.83" y1="3.8" x2="269.83" y2="7.8" stroke="#333333" stroke-width="1.15" />
<text x="269.83" y="219" font-size="8.2" fill="#1a1a1a" text-anchor="middle" font-weight="normal" stroke="#1a1a1a" stroke-width="0.28" >25</text>
<line x1="311.5" y1="205.6" x2="311.5" y2="209.6" stroke="#333333" stroke-width="1.15" />
<line x1="311.5" y1="3.8" x2="311.5" y2="7.8" stroke="#333333" stroke-width="1.15" />
<text x="311.5" y="219" font-size="8.2" fill="#1a1a1a" text-anchor="middle" font-weight="normal" stroke="#1a1a1a" stroke-width="0.28" >30</text>
<line x1="82.33" y1="205.6" x2="82.33" y2="208.1" stroke="#333333" stroke-width="1.15" />
<line x1="82.33" y1="3.8" x2="82.33" y2="6.3" stroke="#333333" stroke-width="1.15" />
<line x1="124" y1="205.6" x2="124" y2="208.1" stroke="#333333" stroke-width="1.15" />
<line x1="124" y1="3.8" x2="124" y2="6.3" stroke="#333333" stroke-width="1.15" />
<line x1="165.67" y1="205.6" x2="165.67" y2="208.1" stroke="#333333" stroke-width="1.15" />
<line x1="165.67" y1="3.8" x2="165.67" y2="6.3" stroke="#333333" stroke-width="1.15" />
<line x1="207.33" y1="205.6" x2="207.33" y2="208.1" stroke="#333333" stroke-width="1.15" />
<line x1="207.33" y1="3.8" x2="207.33" y2="6.3" stroke="#333333" stroke-width="1.15" />
<line x1="249" y1="205.6" x2="249" y2="208.1" stroke="#333333" stroke-width="1.15" />
<line x1="249" y1="3.8" x2="249" y2="6.3" stroke="#333333" stroke-width="1.15" />
<line x1="290.67" y1="205.6" x2="290.67" y2="208.1" stroke="#333333" stroke-width="1.15" />
<line x1="290.67" y1="3.8" x2="290.67" y2="6.3" stroke="#333333" stroke-width="1.15" />
<line x1="397.3" y1="3.8" x2="649" y2="3.8" stroke="#333333" stroke-width="1.15" />
<line x1="649" y1="3.8" x2="649" y2="205.6" stroke="#333333" stroke-width="1.15" />
<line x1="398.3" y1="205.6" x2="649.5" y2="205.6" stroke="#333333" stroke-width="1.15" />
<line x1="398.8" y1="3.8" x2="398.8" y2="112.8" stroke="#333333" stroke-width="1.15" />
<line x1="398.8" y1="115.8" x2="398.8" y2="205.6" stroke="#333333" stroke-width="1.15" />
<line x1="395" y1="113.2" x2="402.6" y2="110.4" stroke="#333333" stroke-width="0.9" />
<line x1="395" y1="116.4" x2="402.6" y2="113.6" stroke="#333333" stroke-width="0.9" />
<line x1="394.5" y1="3.8" x2="398.8" y2="3.8" stroke="#333333" stroke-width="1.15" />
<text x="391.8" y="6.75" font-size="8.2" fill="#1a1a1a" text-anchor="end" font-weight="normal" stroke="#1a1a1a" stroke-width="0.28" >900</text>
<line x1="394.5" y1="39.83" x2="398.8" y2="39.83" stroke="#333333" stroke-width="1.15" />
<text x="391.8" y="42.78" font-size="8.2" fill="#1a1a1a" text-anchor="end" font-weight="normal" stroke="#1a1a1a" stroke-width="0.28" >800</text>
<line x1="394.5" y1="75.86" x2="398.8" y2="75.86" stroke="#333333" stroke-width="1.15" />
<text x="391.8" y="78.81" font-size="8.2" fill="#1a1a1a" text-anchor="end" font-weight="normal" stroke="#1a1a1a" stroke-width="0.28" >700</text>
<line x1="394.5" y1="111.89" x2="398.8" y2="111.89" stroke="#333333" stroke-width="1.15" />
<text x="391.8" y="114.84" font-size="8.2" fill="#1a1a1a" text-anchor="end" font-weight="normal" stroke="#1a1a1a" stroke-width="0.28" >600</text>
<line x1="396.5" y1="21.82" x2="398.8" y2="21.82" stroke="#333333" stroke-width="1.15" />
<line x1="396.5" y1="57.84" x2="398.8" y2="57.84" stroke="#333333" stroke-width="1.15" />
<line x1="396.5" y1="93.88" x2="398.8" y2="93.88" stroke="#333333" stroke-width="1.15" />
<line x1="394.5" y1="133" x2="398.8" y2="133" stroke="#333333" stroke-width="1.15" />
<text x="391.8" y="135.95" font-size="8.2" fill="#1a1a1a" text-anchor="end" font-weight="normal" stroke="#1a1a1a" stroke-width="0.28" >200</text>
<line x1="394.5" y1="151.15" x2="398.8" y2="151.15" stroke="#333333" stroke-width="1.15" />
<text x="391.8" y="154.1" font-size="8.2" fill="#1a1a1a" text-anchor="end" font-weight="normal" stroke="#1a1a1a" stroke-width="0.28" >150</text>
<line x1="394.5" y1="169.3" x2="398.8" y2="169.3" stroke="#333333" stroke-width="1.15" />
<text x="391.8" y="172.25" font-size="8.2" fill="#1a1a1a" text-anchor="end" font-weight="normal" stroke="#1a1a1a" stroke-width="0.28" >100</text>
<line x1="394.5" y1="187.45" x2="398.8" y2="187.45" stroke="#333333" stroke-width="1.15" />
<text x="391.8" y="190.4" font-size="8.2" fill="#1a1a1a" text-anchor="end" font-weight="normal" stroke="#1a1a1a" stroke-width="0.28" >50</text>
<line x1="394.5" y1="205.6" x2="398.8" y2="205.6" stroke="#333333" stroke-width="1.15" />
<text x="391.8" y="208.55" font-size="8.2" fill="#1a1a1a" text-anchor="end" font-weight="normal" stroke="#1a1a1a" stroke-width="0.28" >0</text>
<line x1="396.5" y1="123.92" x2="398.8" y2="123.92" stroke="#333333" stroke-width="1.15" />
<line x1="396.5" y1="142.07" x2="398.8" y2="142.07" stroke="#333333" stroke-width="1.15" />
<line x1="396.5" y1="160.22" x2="398.8" y2="160.22" stroke="#333333" stroke-width="1.15" />
<line x1="396.5" y1="178.38" x2="398.8" y2="178.38" stroke="#333333" stroke-width="1.15" />
<line x1="396.5" y1="196.53" x2="398.8" y2="196.53" stroke="#333333" stroke-width="1.15" />
<line x1="649" y1="3.8" x2="652.5" y2="3.8" stroke="#333333" stroke-width="1.15" />
<text x="655.3" y="6.75" font-size="8.2" fill="#1a1a1a" text-anchor="start" font-weight="normal" stroke="#1a1a1a" stroke-width="0.28" >120</text>
<line x1="649" y1="37.43" x2="652.5" y2="37.43" stroke="#333333" stroke-width="1.15" />
<text x="655.3" y="40.38" font-size="8.2" fill="#1a1a1a" text-anchor="start" font-weight="normal" stroke="#1a1a1a" stroke-width="0.28" >100</text>
<line x1="649" y1="71.07" x2="652.5" y2="71.07" stroke="#333333" stroke-width="1.15" />
<text x="655.3" y="74.02" font-size="8.2" fill="#1a1a1a" text-anchor="start" font-weight="normal" stroke="#1a1a1a" stroke-width="0.28" >80</text>
<line x1="649" y1="104.7" x2="652.5" y2="104.7" stroke="#333333" stroke-width="1.15" />
<text x="655.3" y="107.65" font-size="8.2" fill="#1a1a1a" text-anchor="start" font-weight="normal" stroke="#1a1a1a" stroke-width="0.28" >60</text>
<line x1="649" y1="138.33" x2="652.5" y2="138.33" stroke="#333333" stroke-width="1.15" />
<text x="655.3" y="141.28" font-size="8.2" fill="#1a1a1a" text-anchor="start" font-weight="normal" stroke="#1a1a1a" stroke-width="0.28" >40</text>
<line x1="649" y1="171.97" x2="652.5" y2="171.97" stroke="#333333" stroke-width="1.15" />
<text x="655.3" y="174.92" font-size="8.2" fill="#1a1a1a" text-anchor="start" font-weight="normal" stroke="#1a1a1a" stroke-width="0.28" >20</text>
<line x1="649" y1="205.6" x2="652.5" y2="205.6" stroke="#333333" stroke-width="1.15" />
<text x="655.3" y="208.55" font-size="8.2" fill="#1a1a1a" text-anchor="start" font-weight="normal" stroke="#1a1a1a" stroke-width="0.28" >0</text>
<line x1="649" y1="20.62" x2="651.2" y2="20.62" stroke="#333333" stroke-width="1.15" />
<line x1="649" y1="54.25" x2="651.2" y2="54.25" stroke="#333333" stroke-width="1.15" />
<line x1="649" y1="87.88" x2="651.2" y2="87.88" stroke="#333333" stroke-width="1.15" />
<line x1="649" y1="121.52" x2="651.2" y2="121.52" stroke="#333333" stroke-width="1.15" />
<line x1="649" y1="155.15" x2="651.2" y2="155.15" stroke="#333333" stroke-width="1.15" />
<line x1="649" y1="188.78" x2="651.2" y2="188.78" stroke="#333333" stroke-width="1.15" />
<line x1="398.8" y1="205.6" x2="398.8" y2="209.6" stroke="#333333" stroke-width="1.15" />
<line x1="398.8" y1="3.8" x2="398.8" y2="7.8" stroke="#333333" stroke-width="1.15" />
<text x="398.8" y="219" font-size="8.2" fill="#1a1a1a" text-anchor="middle" font-weight="normal" stroke="#1a1a1a" stroke-width="0.28" >0</text>
<line x1="440.5" y1="205.6" x2="440.5" y2="209.6" stroke="#333333" stroke-width="1.15" />
<line x1="440.5" y1="3.8" x2="440.5" y2="7.8" stroke="#333333" stroke-width="1.15" />
<text x="440.5" y="219" font-size="8.2" fill="#1a1a1a" text-anchor="middle" font-weight="normal" stroke="#1a1a1a" stroke-width="0.28" >5</text>
<line x1="482.2" y1="205.6" x2="482.2" y2="209.6" stroke="#333333" stroke-width="1.15" />
<line x1="482.2" y1="3.8" x2="482.2" y2="7.8" stroke="#333333" stroke-width="1.15" />
<text x="482.2" y="219" font-size="8.2" fill="#1a1a1a" text-anchor="middle" font-weight="normal" stroke="#1a1a1a" stroke-width="0.28" >10</text>
<line x1="523.9" y1="205.6" x2="523.9" y2="209.6" stroke="#333333" stroke-width="1.15" />
<line x1="523.9" y1="3.8" x2="523.9" y2="7.8" stroke="#333333" stroke-width="1.15" />
<text x="523.9" y="219" font-size="8.2" fill="#1a1a1a" text-anchor="middle" font-weight="normal" stroke="#1a1a1a" stroke-width="0.28" >15</text>
<line x1="565.6" y1="205.6" x2="565.6" y2="209.6" stroke="#333333" stroke-width="1.15" />
<line x1="565.6" y1="3.8" x2="565.6" y2="7.8" stroke="#333333" stroke-width="1.15" />
<text x="565.6" y="219" font-size="8.2" fill="#1a1a1a" text-anchor="middle" font-weight="normal" stroke="#1a1a1a" stroke-width="0.28" >20</text>
<line x1="607.3" y1="205.6" x2="607.3" y2="209.6" stroke="#333333" stroke-width="1.15" />
<line x1="607.3" y1="3.8" x2="607.3" y2="7.8" stroke="#333333" stroke-width="1.15" />
<text x="607.3" y="219" font-size="8.2" fill="#1a1a1a" text-anchor="middle" font-weight="normal" stroke="#1a1a1a" stroke-width="0.28" >25</text>
<line x1="649" y1="205.6" x2="649" y2="209.6" stroke="#333333" stroke-width="1.15" />
<line x1="649" y1="3.8" x2="649" y2="7.8" stroke="#333333" stroke-width="1.15" />
<text x="649" y="219" font-size="8.2" fill="#1a1a1a" text-anchor="middle" font-weight="normal" stroke="#1a1a1a" stroke-width="0.28" >30</text>
<line x1="419.65" y1="205.6" x2="419.65" y2="208.1" stroke="#333333" stroke-width="1.15" />
<line x1="419.65" y1="3.8" x2="419.65" y2="6.3" stroke="#333333" stroke-width="1.15" />
<line x1="461.35" y1="205.6" x2="461.35" y2="208.1" stroke="#333333" stroke-width="1.15" />
<line x1="461.35" y1="3.8" x2="461.35" y2="6.3" stroke="#333333" stroke-width="1.15" />
<line x1="503.05" y1="205.6" x2="503.05" y2="208.1" stroke="#333333" stroke-width="1.15" />
<line x1="503.05" y1="3.8" x2="503.05" y2="6.3" stroke="#333333" stroke-width="1.15" />
<line x1="544.75" y1="205.6" x2="544.75" y2="208.1" stroke="#333333" stroke-width="1.15" />
<line x1="544.75" y1="3.8" x2="544.75" y2="6.3" stroke="#333333" stroke-width="1.15" />
<line x1="586.45" y1="205.6" x2="586.45" y2="208.1" stroke="#333333" stroke-width="1.15" />
<line x1="586.45" y1="3.8" x2="586.45" y2="6.3" stroke="#333333" stroke-width="1.15" />
<line x1="628.15" y1="205.6" x2="628.15" y2="208.1" stroke="#333333" stroke-width="1.15" />
<line x1="628.15" y1="3.8" x2="628.15" y2="6.3" stroke="#333333" stroke-width="1.15" />
<text transform="translate(0.09 25.5) scale(0.83 1)" font-size="22" font-weight="bold" fill="#000" stroke="#000" stroke-width="0.25">(</text>
<text transform="translate(7.25 25.5) scale(0.83 1)" font-size="22" font-weight="bold" fill="#000" stroke="#000" stroke-width="0.25">a</text>
<text transform="translate(19.9 25.5) scale(0.83 1)" font-size="22" font-weight="bold" fill="#000" stroke="#000" stroke-width="0.25">)</text>
<text transform="translate(339.1 25.5) scale(0.83 1)" font-size="22" font-weight="bold" fill="#000" stroke="#000" stroke-width="0.25">(</text>
<text transform="translate(346.15 25.5) scale(0.9 1)" font-size="22" font-weight="bold" fill="#000" stroke="#000" stroke-width="0.25">b</text>
<text transform="translate(359.3 25.5) scale(0.83 1)" font-size="22" font-weight="bold" fill="#000" stroke="#000" stroke-width="0.25">)</text>
<text x="29.6" y="104.9" font-size="10.7" fill="#1a1a1a" text-anchor="middle" font-weight="normal" stroke="#1a1a1a" stroke-width="0.28" transform="rotate(-90 29.6 104.9)" >Capacity (mAh/g)</text>
<text x="344.4" y="103.6" font-size="10.5" fill="#1a1a1a" text-anchor="middle" font-weight="normal" stroke="#1a1a1a" stroke-width="0.28" transform="rotate(-90 344.4 103.6)" >Coulombic efficency (%)</text>
<text x="371.2" y="104.9" font-size="10.7" fill="#1a1a1a" text-anchor="middle" font-weight="normal" stroke="#1a1a1a" stroke-width="0.28" transform="rotate(-90 371.2 104.9)" >Capacity (mAh/g)</text>
<text x="681.9" y="103.6" font-size="10.5" fill="#1a1a1a" text-anchor="middle" font-weight="normal" stroke="#1a1a1a" stroke-width="0.28" transform="rotate(-90 681.9 103.6)" >Coulombic efficency (%)</text>
<text x="163" y="237.2" font-size="10.5" fill="#1a1a1a" stroke="#1a1a1a" stroke-width="0.28">Cycle (n<tspan font-size="7" dy="-4.6">th</tspan><tspan dy="4.6">)</tspan></text>
<text x="500.5" y="237.2" font-size="10.5" fill="#1a1a1a" stroke="#1a1a1a" stroke-width="0.28">Cycle (n<tspan font-size="7" dy="-4.6">th</tspan><tspan dy="4.6">)</tspan></text>
<rect x="245.7" y="11.6" width="6.6" height="6.6" fill="#000"/>
<rect x="246.1" y="22.4" width="5.8" height="5.8" fill="#fff" stroke="#a8a8a8" stroke-width="1.1"/>
<circle cx="249" cy="34.7" r="3.4" fill="#000"/>
<text x="254.4" y="18.6" font-size="8" fill="#1a1a1a" text-anchor="start" font-weight="normal" stroke="#1a1a1a" stroke-width="0.28" >Charge</text>
<text x="254.4" y="28.8" font-size="8" fill="#1a1a1a" text-anchor="start" font-weight="normal" stroke="#1a1a1a" stroke-width="0.28" >Discharge</text>
<text x="254.4" y="37.8" font-size="8" fill="#1a1a1a" text-anchor="start" font-weight="normal" stroke="#1a1a1a" stroke-width="0.28" >Coulombic eff.</text>
<rect x="585.3" y="123" width="6.6" height="6.6" fill="#000"/>
<rect x="585.7" y="133.5" width="5.8" height="5.8" fill="#fff" stroke="#a8a8a8" stroke-width="1.1"/>
<circle cx="588.6" cy="145" r="3.4" fill="#000"/>
<text x="594" y="130" font-size="7.8" fill="#1a1a1a" text-anchor="start" font-weight="normal" stroke="#1a1a1a" stroke-width="0.28" >Charge</text>
<text x="594" y="140" font-size="7.8" fill="#1a1a1a" text-anchor="start" font-weight="normal" stroke="#1a1a1a" stroke-width="0.28" >Discharge</text>
<text x="594" y="147.9" font-size="7.8" fill="#1a1a1a" text-anchor="start" font-weight="normal" stroke="#1a1a1a" stroke-width="0.28" >Coulombic eff.</text>
<rect x="265.3" y="61.8" width="42.5" height="49.2" fill="#fff" stroke="#a9a9a9" stroke-width="1"/>
<text x="267.2" y="72.4" font-size="10" fill="#a21ed2" stroke="#a21ed2" stroke-width="0.28"><tspan font-style="italic">h</tspan>-SnLi30</text>
<text x="267.2" y="84.15" font-size="10" fill="#1ec8cc" stroke="#1ec8cc" stroke-width="0.28"><tspan font-style="italic">h</tspan>-SnLi20</text>
<text x="267.2" y="95.9" font-size="10" fill="#e6dc3c" stroke="#e6dc3c" stroke-width="0.28"><tspan font-style="italic">h</tspan>-snLi10</text>
<text x="267.2" y="107.65" font-size="10" fill="#ff2090" stroke="#ff2090" stroke-width="0.28"><tspan font-style="italic">h</tspan>-SnLi0</text>
<rect x="600" y="59.9" width="43.3" height="45.2" fill="#fff" stroke="#a9a9a9" stroke-width="1"/>
<text x="601.8" y="69.6" font-size="9" fill="#cfa030" stroke="#cfa030" stroke-width="0.28"><tspan font-style="italic">h</tspan>-TiLi0-r</text>
<text x="601.8" y="80.4" font-size="9" fill="#10a0a0" stroke="#10a0a0" stroke-width="0.28"><tspan font-style="italic">h</tspan>-TiLi20-a</text>
<text x="601.8" y="91.2" font-size="9" fill="#ababab" stroke="#ababab" stroke-width="0.28"><tspan font-style="italic">h</tspan>-TiLi10-a</text>
<text x="601.8" y="102" font-size="9" fill="#f01e28" stroke="#f01e28" stroke-width="0.28"><tspan font-style="italic">h</tspan>-TiLi0-a</text>
</svg>
</body></html>
